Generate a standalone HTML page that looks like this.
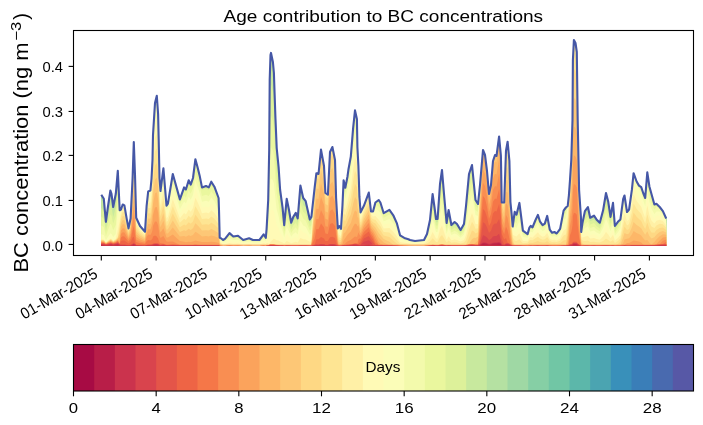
<!DOCTYPE html>
<html><head><meta charset="utf-8"><style>
html,body{margin:0;padding:0;background:#fff;}
svg{display:block;}
text{font-family:"Liberation Sans",sans-serif;fill:#000;}
</style></head><body>
<svg style="will-change:transform" width="703" height="425" viewBox="0 0 703 425">
<rect width="703" height="425" fill="#fff"/>
<text x="223.6" y="21.9" font-size="16.3" textLength="319.5" lengthAdjust="spacingAndGlyphs">Age contribution to BC concentrations</text>
<g transform="translate(28.4,272.5) rotate(-90)">
<text x="0" y="0" font-size="20" textLength="230" lengthAdjust="spacingAndGlyphs">BC concentration (ng m</text>
<text x="231.8" y="-7.1" font-size="14.2" textLength="19" lengthAdjust="spacingAndGlyphs">&#8722;3</text>
<text x="252.8" y="0" font-size="20">)</text>
</g>
<g><path d="M101.3,245.7 L101.3,194.7 L103.8,198.8 L105.9,221.8 L107.9,207 L110.4,190.5 L111.5,193.8 L113.2,207 L115.8,193.8 L117.8,170.8 L119.7,210.3 L121,209.5 L122.7,204.5 L124.4,205.4 L126.8,219.4 L128.5,228.4 L130.6,218.5 L132.6,178 L133.8,142 L135,175 L136.2,217.7 L140,226 L145,231.7 L146.6,206.2 L148.2,191.4 L150.4,190.5 L151.5,179 L152.5,160 L153,135 L155,103 L156.8,95.8 L158.1,114 L158.7,140 L159.5,178 L160.5,191 L163.4,168.3 L166.5,205.7 L167.9,203.6 L172.8,174 L179.9,199.4 L184.1,187.4 L185.9,189.5 L188.7,180.3 L190.7,184.6 L193,178 L195.4,159.2 L197.5,167 L199.6,175.4 L202,187.4 L206,186 L208.8,187.4 L211.3,181.7 L214.4,186.7 L218.6,198 L219,210 L219.7,237.8 L221,238.2 L223.1,240 L225.2,238.7 L229.5,233.1 L233.3,236.5 L238,235.7 L243.2,240 L249.1,238.2 L253,240 L259.4,240 L263.6,234.4 L265.8,237.8 L266.6,229 L268.2,200 L269.2,150 L269.7,80 L270.5,55 L271,52.9 L272.9,62 L273.9,73 L274.4,88 L275.4,117 L276.7,148 L278.6,167 L280.1,189.7 L282.6,207.8 L284.2,225.1 L286.7,198.8 L288.9,209.5 L291.2,222.7 L293.3,216.9 L295.8,212.8 L297.7,218.5 L300.4,185.6 L303.2,198 L305.7,201.2 L309.8,219.4 L311.4,216.9 L314.7,187.2 L316.4,173.2 L318.5,174 L321,149.6 L324,166 L325.4,193 L327.9,194.7 L330,152 L332.4,147 L335,160 L336.1,198 L337.8,228.4 L339.4,226 L341,228.8 L342.5,205 L343.6,180.2 L345.3,187.7 L347.4,177 L348.4,169.8 L350.8,156.6 L352.2,139.6 L353.1,128.3 L355,110.4 L356.9,118.9 L357.4,147 L358.4,166 L359.4,196.7 L360.6,212.4 L363.9,205.8 L368.8,192.6 L371,211.5 L373,211.5 L375.4,202.5 L378.7,200 L380.4,202.5 L383.7,213.2 L389.4,209.9 L393.5,215.7 L396.8,223.1 L400.1,235.4 L404.3,237.9 L408.4,239.2 L410,240 L415,241 L424,240 L427,234 L430,220 L432.6,194 L434.6,208 L436,219 L437.6,219 L440,184 L442,170 L444,194 L446.6,223 L448.6,210 L451.4,225 L454.6,222 L457,224 L460.6,230 L464,224 L466,206 L469,174 L472,165 L474,185 L475.5,200 L478,204 L480,185 L483,150 L485,155 L487,171 L489,194 L491,185 L493,161 L495,155 L496.5,156 L499.1,136.5 L500.9,155.9 L501.7,202.5 L504.2,202.5 L506,150.7 L507.6,141.7 L509.4,161 L510.4,201.8 L511.8,215.9 L512.7,226.5 L514.7,211.8 L516.5,214.7 L519.4,202.9 L521.2,217 L522.9,230.6 L527.6,234.1 L529.4,227.6 L530.7,225.9 L532.5,227.4 L535.3,220.5 L537.9,214.9 L539.9,221.3 L542.6,225.1 L544.8,223.6 L547.2,215.9 L549.8,229.7 L552.1,232.8 L554.4,232 L556.7,233.5 L560.1,228.9 L563.6,210.6 L565.9,207.5 L567.7,206 L568.9,195.3 L570,180 L571.3,160 L572.5,120 L572.9,60 L573.9,40 L575.5,43 L576.8,52 L577.7,120 L578.5,160 L579.1,190 L580.9,216.7 L581.2,232 L582.5,222.7 L584.9,211.1 L587.9,207 L590.2,217.7 L594,215.7 L596.5,219.4 L599.8,222.7 L603.1,210.3 L606,193 L608.3,202.1 L610.5,216.9 L613,202.9 L614.9,226 L617.9,221.8 L620.4,219.4 L623.2,198.8 L624.5,195.5 L627,212 L629.1,209.5 L631.9,189.7 L633.6,173.2 L636.6,181.5 L639,185.6 L641.2,187.2 L643.2,193 L645.2,198 L647.3,172.4 L649.4,186.4 L651.4,193.8 L654.4,204.5 L656.4,203.7 L659.7,207 L662.9,211.1 L666.2,218.5 L666.2,245.7 Z" fill="#5758a6"/>
<path d="M101.3,245.7 L101.3,194.7 L103.8,198.8 L105.9,221.8 L107.9,207 L110.4,190.5 L111.5,193.8 L113.2,207 L115.8,193.8 L117.8,170.8 L119.7,210.3 L121,209.5 L122.7,204.5 L124.4,205.4 L126.8,219.4 L128.5,228.4 L130.6,218.5 L132.6,178 L133.8,142 L135,175 L136.2,217.7 L140,226 L145,231.7 L146.6,206.2 L148.2,191.4 L150.4,190.5 L151.5,179 L152.5,160 L153,135 L155,103 L156.8,95.8 L158.1,114 L158.7,140 L159.5,178 L160.5,191 L163.4,168.3 L166.5,205.7 L167.9,203.6 L172.8,174 L179.9,199.4 L184.1,187.4 L185.9,189.5 L188.7,180.3 L190.7,184.6 L193,178 L195.4,159.2 L197.5,167 L199.6,175.4 L202,187.4 L206,186 L208.8,187.4 L211.3,181.7 L214.4,186.7 L218.6,198 L219,210 L219.7,237.8 L221,238.2 L223.1,240 L225.2,238.7 L229.5,233.1 L233.3,236.5 L238,235.7 L243.2,240 L249.1,238.2 L253,240 L259.4,240 L263.6,234.4 L265.8,237.8 L266.6,229 L268.2,200 L269.2,150 L269.7,80 L270.5,55 L271,52.9 L272.9,62 L273.9,73 L274.4,88 L275.4,117 L276.7,148 L278.6,167 L280.1,189.7 L282.6,207.8 L284.2,225.1 L286.7,198.8 L288.9,209.5 L291.2,222.7 L293.3,216.9 L295.8,212.8 L297.7,218.5 L300.4,185.6 L303.2,198 L305.7,201.2 L309.8,219.4 L311.4,216.9 L314.7,187.2 L316.4,173.2 L318.5,174 L321,149.6 L324,166 L325.4,193 L327.9,194.7 L330,152 L332.4,147 L335,160 L336.1,198 L337.8,228.4 L339.4,226 L341,228.8 L342.5,205 L343.6,180.2 L345.3,187.7 L347.4,177 L348.4,169.8 L350.8,156.6 L352.2,139.6 L353.1,128.3 L355,110.4 L356.9,118.9 L357.4,147 L358.4,166 L359.4,196.7 L360.6,212.4 L363.9,205.8 L368.8,192.6 L371,211.5 L373,211.5 L375.4,202.5 L378.7,200 L380.4,202.5 L383.7,213.2 L389.4,209.9 L393.5,215.7 L396.8,223.1 L400.1,235.4 L404.3,237.9 L408.4,239.2 L410,240 L415,241 L424,240 L427,234 L430,220 L432.6,194 L434.6,208 L436,219 L437.6,219 L440,184 L442,170 L444,194 L446.6,223 L448.6,210 L451.4,225 L454.6,222 L457,224 L460.6,230 L464,224 L466,206 L469,174 L472,165 L474,185 L475.5,200 L478,204 L480,185 L483,150 L485,155 L487,171 L489,194 L491,185 L493,161 L495,155 L496.5,156 L499.1,136.5 L500.9,155.9 L501.7,202.5 L504.2,202.5 L506,150.7 L507.6,141.7 L509.4,161 L510.4,201.8 L511.8,215.9 L512.7,226.5 L514.7,211.8 L516.5,214.7 L519.4,202.9 L521.2,217 L522.9,230.6 L527.6,234.1 L529.4,227.6 L530.7,225.9 L532.5,227.4 L535.3,220.5 L537.9,214.9 L539.9,221.3 L542.6,225.1 L544.8,223.6 L547.2,215.9 L549.8,229.7 L552.1,232.8 L554.4,232 L556.7,233.5 L560.1,228.9 L563.6,210.6 L565.9,207.5 L567.7,206 L568.9,195.3 L570,180 L571.3,160 L572.5,120 L572.9,60 L573.9,40 L575.5,43 L576.8,52 L577.7,120 L578.5,160 L579.1,190 L580.9,216.7 L581.2,232 L582.5,222.7 L584.9,211.1 L587.9,207 L590.2,217.7 L594,215.7 L596.5,219.4 L599.8,222.7 L603.1,210.3 L606,193 L608.3,202.1 L610.5,216.9 L613,202.9 L614.9,226 L617.9,221.8 L620.4,219.4 L623.2,198.8 L624.5,195.5 L627,212 L629.1,209.5 L631.9,189.7 L633.6,173.2 L636.6,181.5 L639,185.6 L641.2,187.2 L643.2,193 L645.2,198 L647.3,172.4 L649.4,186.4 L651.4,193.8 L654.4,204.5 L656.4,203.7 L659.7,207 L662.9,211.1 L666.2,218.5 L666.2,245.7 Z" fill="#496aaf"/>
<path d="M101.3,245.7 L101.3,194.7 L103.8,198.8 L105.9,221.8 L107.9,207 L110.4,190.5 L111.5,193.8 L113.2,207 L115.8,193.8 L117.8,170.8 L119.7,210.3 L121,209.5 L122.7,204.5 L124.4,205.4 L126.8,219.4 L128.5,228.4 L130.6,218.5 L132.6,178 L133.8,142 L135,175 L136.2,217.7 L140,226 L145,231.7 L146.6,206.2 L148.2,191.4 L150.4,190.5 L151.5,179 L152.5,160 L153,135 L155,103 L156.8,95.8 L158.1,114 L158.7,140 L159.5,178 L160.5,191 L163.4,168.3 L166.5,205.7 L167.9,203.6 L172.8,174 L179.9,199.4 L184.1,187.4 L185.9,189.5 L188.7,180.3 L190.7,184.6 L193,178 L195.4,159.2 L197.5,167 L199.6,175.4 L202,187.4 L206,186 L208.8,187.4 L211.3,181.7 L214.4,186.7 L218.6,198 L219,210 L219.7,237.8 L221,238.2 L223.1,240 L225.2,238.7 L229.5,233.1 L233.3,236.5 L238,235.7 L243.2,240 L249.1,238.2 L253,240 L259.4,240 L263.6,234.4 L265.8,237.8 L266.6,229 L268.2,200 L269.2,150 L269.7,80 L270.5,55 L271,52.9 L272.9,62 L273.9,73 L274.4,88 L275.4,117 L276.7,148 L278.6,167 L280.1,189.7 L282.6,207.8 L284.2,225.1 L286.7,198.8 L288.9,209.5 L291.2,222.7 L293.3,216.9 L295.8,212.8 L297.7,218.5 L300.4,185.6 L303.2,198 L305.7,201.2 L309.8,219.4 L311.4,216.9 L314.7,187.2 L316.4,173.2 L318.5,174 L321,149.6 L324,166 L325.4,193 L327.9,194.7 L330,152 L332.4,147 L335,160 L336.1,198 L337.8,228.4 L339.4,226 L341,228.8 L342.5,205 L343.6,180.2 L345.3,187.7 L347.4,177 L348.4,169.8 L350.8,156.6 L352.2,139.6 L353.1,128.3 L355,110.4 L356.9,118.9 L357.4,147 L358.4,166 L359.4,196.7 L360.6,212.4 L363.9,205.8 L368.8,192.6 L371,211.5 L373,211.5 L375.4,202.5 L378.7,200 L380.4,202.5 L383.7,213.2 L389.4,209.9 L393.5,215.7 L396.8,223.1 L400.1,235.4 L404.3,237.9 L408.4,239.2 L410,240 L415,241 L424,240 L427,234 L430,220 L432.6,194 L434.6,208 L436,219 L437.6,219 L440,184 L442,170 L444,194 L446.6,223 L448.6,210 L451.4,225 L454.6,222 L457,224 L460.6,230 L464,224 L466,206 L469,174 L472,165 L474,185 L475.5,200 L478,204 L480,185 L483,150 L485,155 L487,171 L489,194 L491,185 L493,161 L495,155 L496.5,156 L499.1,136.5 L500.9,155.9 L501.7,202.5 L504.2,202.5 L506,150.7 L507.6,141.7 L509.4,161 L510.4,201.8 L511.8,215.9 L512.7,226.5 L514.7,211.8 L516.5,214.7 L519.4,202.9 L521.2,217 L522.9,230.6 L527.6,234.1 L529.4,227.6 L530.7,225.9 L532.5,227.4 L535.3,220.5 L537.9,214.9 L539.9,221.3 L542.6,225.1 L544.8,223.6 L547.2,215.9 L549.8,229.7 L552.1,232.8 L554.4,232 L556.7,233.5 L560.1,228.9 L563.6,210.6 L565.9,207.5 L567.7,206 L568.9,195.3 L570,180 L571.3,160 L572.5,120 L572.9,60 L573.9,40 L575.5,43 L576.8,52 L577.7,120 L578.5,160 L579.1,190 L580.9,216.7 L581.2,232 L582.5,222.7 L584.9,211.1 L587.9,207 L590.2,217.7 L594,215.7 L596.5,219.4 L599.8,222.7 L603.1,210.3 L606,193 L608.3,202.1 L610.5,216.9 L613,202.9 L614.9,226 L617.9,221.8 L620.4,219.4 L623.2,198.8 L624.5,195.5 L627,212 L629.1,209.5 L631.9,189.7 L633.6,173.2 L636.6,181.5 L639,185.6 L641.2,187.2 L643.2,193 L645.2,198 L647.3,172.4 L649.4,186.4 L651.4,193.8 L654.4,204.5 L656.4,203.7 L659.7,207 L662.9,211.1 L666.2,218.5 L666.2,245.7 Z" fill="#3a7eb8"/>
<path d="M101.3,245.7 L101.3,194.7 L103.8,198.8 L105.9,221.8 L107.9,207 L110.4,190.5 L111.5,193.8 L113.2,207 L115.8,193.8 L117.8,170.8 L119.7,210.3 L121,209.5 L122.7,204.5 L124.4,205.4 L126.8,219.4 L128.5,228.4 L130.6,218.5 L132.6,178 L133.8,142 L135,175 L136.2,217.7 L140,226 L145,231.7 L146.6,206.2 L148.2,191.4 L150.4,190.5 L151.5,179 L152.5,160 L153,135 L155,103 L156.8,95.8 L158.1,114 L158.7,140 L159.5,178 L160.5,191 L163.4,168.3 L166.5,205.7 L167.9,203.6 L172.8,174 L179.9,199.4 L184.1,187.4 L185.9,189.5 L188.7,180.3 L190.7,184.6 L193,178 L195.4,159.2 L197.5,167 L199.6,175.4 L202,187.4 L206,186 L208.8,187.4 L211.3,181.7 L214.4,186.7 L218.6,198 L219,210 L219.7,237.8 L221,238.2 L223.1,240 L225.2,238.7 L229.5,233.1 L233.3,236.5 L238,235.7 L243.2,240 L249.1,238.2 L253,240 L259.4,240 L263.6,234.4 L265.8,237.8 L266.6,229 L268.2,200 L269.2,150 L269.7,80 L270.5,55 L271,52.9 L272.9,62 L273.9,73 L274.4,88 L275.4,117 L276.7,148 L278.6,167 L280.1,189.7 L282.6,207.8 L284.2,225.1 L286.7,198.8 L288.9,209.5 L291.2,222.7 L293.3,216.9 L295.8,212.8 L297.7,218.5 L300.4,185.6 L303.2,198 L305.7,201.2 L309.8,219.4 L311.4,216.9 L314.7,187.2 L316.4,173.2 L318.5,174 L321,149.6 L324,166 L325.4,193 L327.9,194.7 L330,152 L332.4,147 L335,160 L336.1,198 L337.8,228.4 L339.4,226 L341,228.8 L342.5,205 L343.6,180.2 L345.3,187.7 L347.4,177 L348.4,169.8 L350.8,156.6 L352.2,139.6 L353.1,128.3 L355,110.4 L356.9,118.9 L357.4,147 L358.4,166 L359.4,196.7 L360.6,212.4 L363.9,205.8 L368.8,192.6 L371,211.5 L373,211.5 L375.4,202.5 L378.7,200 L380.4,202.5 L383.7,213.2 L389.4,209.9 L393.5,215.7 L396.8,223.1 L400.1,235.4 L404.3,237.9 L408.4,239.2 L410,240 L415,241 L424,240 L427,234 L430,220 L432.6,194 L434.6,208 L436,219 L437.6,219 L440,184 L442,170 L444,194 L446.6,223 L448.6,210 L451.4,225 L454.6,222 L457,224 L460.6,230 L464,224 L466,206 L469,174 L472,165 L474,185 L475.5,200 L478,204 L480,185 L483,150 L485,155 L487,171 L489,194 L491,185 L493,161 L495,155 L496.5,156 L499.1,136.5 L500.9,155.9 L501.7,202.5 L504.2,202.5 L506,150.7 L507.6,141.7 L509.4,161 L510.4,201.8 L511.8,215.9 L512.7,226.5 L514.7,211.8 L516.5,214.7 L519.4,202.9 L521.2,217 L522.9,230.6 L527.6,234.1 L529.4,227.6 L530.7,225.9 L532.5,227.4 L535.3,220.5 L537.9,214.9 L539.9,221.3 L542.6,225.1 L544.8,223.6 L547.2,215.9 L549.8,229.7 L552.1,232.8 L554.4,232 L556.7,233.5 L560.1,228.9 L563.6,210.6 L565.9,207.5 L567.7,206 L568.9,195.3 L570,180 L571.3,160 L572.5,120 L572.9,60 L573.9,40 L575.5,43 L576.8,52 L577.7,120 L578.5,160 L579.1,190 L580.9,216.7 L581.2,232 L582.5,222.7 L584.9,211.1 L587.9,207 L590.2,217.7 L594,215.7 L596.5,219.4 L599.8,222.7 L603.1,210.3 L606,193 L608.3,202.1 L610.5,216.9 L613,202.9 L614.9,226 L617.9,221.8 L620.4,219.4 L623.2,198.8 L624.5,195.5 L627,212 L629.1,209.5 L631.9,189.7 L633.6,173.2 L636.6,181.5 L639,185.6 L641.2,187.2 L643.2,193 L645.2,198 L647.3,172.4 L649.4,186.4 L651.4,193.8 L654.4,204.5 L656.4,203.7 L659.7,207 L662.9,211.1 L666.2,218.5 L666.2,245.7 Z" fill="#3990ba"/>
<path d="M101.3,245.7 L101.3,194.7 L103.8,198.8 L105.9,221.8 L107.9,207 L110.4,190.5 L111.5,193.8 L113.2,207 L115.8,193.8 L117.8,170.8 L119.7,210.3 L121,209.5 L122.7,204.5 L124.4,205.4 L126.8,219.4 L128.5,228.4 L130.6,218.5 L132.6,178 L133.8,142 L135,175 L136.2,217.7 L140,226 L145,231.7 L146.6,206.2 L148.2,191.4 L150.4,190.5 L151.5,179 L152.5,160 L153,135 L155,103 L156.8,95.8 L158.1,114 L158.7,140 L159.5,178 L160.5,191 L163.4,168.3 L166.5,205.7 L167.9,203.6 L172.8,174 L179.9,199.4 L184.1,187.4 L185.9,189.5 L188.7,180.3 L190.7,184.6 L193,178 L195.4,159.2 L197.5,167 L199.6,175.4 L202,187.4 L206,186 L208.8,187.4 L211.3,181.7 L214.4,186.7 L218.6,198 L219,210 L219.7,237.8 L221,238.2 L223.1,240 L225.2,238.7 L229.5,233.1 L233.3,236.5 L238,235.7 L243.2,240 L249.1,238.2 L253,240 L259.4,240 L263.6,234.4 L265.8,237.8 L266.6,229 L268.2,200 L269.2,150 L269.7,80 L270.5,55 L271,52.9 L272.9,62 L273.9,73 L274.4,88 L275.4,117 L276.7,148 L278.6,167 L280.1,189.7 L282.6,207.8 L284.2,225.1 L286.7,198.8 L288.9,209.5 L291.2,222.7 L293.3,216.9 L295.8,212.8 L297.7,218.5 L300.4,185.6 L303.2,198 L305.7,201.2 L309.8,219.4 L311.4,216.9 L314.7,187.2 L316.4,173.2 L318.5,174 L321,149.6 L324,166 L325.4,193 L327.9,194.7 L330,152 L332.4,147 L335,160 L336.1,198 L337.8,228.4 L339.4,226 L341,228.8 L342.5,205 L343.6,180.2 L345.3,187.7 L347.4,177 L348.4,169.8 L350.8,156.6 L352.2,139.6 L353.1,128.3 L355,110.4 L356.9,118.9 L357.4,147 L358.4,166 L359.4,196.7 L360.6,212.4 L363.9,205.8 L368.8,192.6 L371,211.5 L373,211.5 L375.4,202.5 L378.7,200 L380.4,202.5 L383.7,213.2 L389.4,209.9 L393.5,215.7 L396.8,223.1 L400.1,235.4 L404.3,237.9 L408.4,239.2 L410,240 L415,241 L424,240 L427,234 L430,220 L432.6,194 L434.6,208 L436,219 L437.6,219 L440,184 L442,170 L444,194 L446.6,223 L448.6,210 L451.4,225 L454.6,222 L457,224 L460.6,230 L464,224 L466,206 L469,174 L472,165 L474,185 L475.5,200 L478,204 L480,185 L483,150 L485,155 L487,171 L489,194 L491,185 L493,161 L495,155 L496.5,156 L499.1,136.5 L500.9,155.9 L501.7,202.5 L504.2,202.5 L506,150.7 L507.6,141.7 L509.4,161 L510.4,201.8 L511.8,215.9 L512.7,226.5 L514.7,211.8 L516.5,214.7 L519.4,202.9 L521.2,217 L522.9,230.6 L527.6,234.1 L529.4,227.6 L530.7,225.9 L532.5,227.4 L535.3,220.5 L537.9,214.9 L539.9,221.3 L542.6,225.1 L544.8,223.6 L547.2,215.9 L549.8,229.7 L552.1,232.8 L554.4,232 L556.7,233.5 L560.1,228.9 L563.6,210.6 L565.9,207.5 L567.7,206 L568.9,195.3 L570,180 L571.3,160 L572.5,120 L572.9,60 L573.9,40 L575.5,43 L576.8,52 L577.7,120 L578.5,160 L579.1,190 L580.9,216.7 L581.2,232 L582.5,222.7 L584.9,211.1 L587.9,207 L590.2,217.7 L594,215.7 L596.5,219.4 L599.8,222.7 L603.1,210.3 L606,193 L608.3,202.1 L610.5,216.9 L613,202.9 L614.9,226 L617.9,221.8 L620.4,219.4 L623.2,198.8 L624.5,195.5 L627,212 L629.1,209.5 L631.9,189.7 L633.6,173.2 L636.6,181.5 L639,185.6 L641.2,187.2 L643.2,193 L645.2,198 L647.3,172.4 L649.4,186.4 L651.4,193.8 L654.4,204.5 L656.4,203.7 L659.7,207 L662.9,211.1 L666.2,218.5 L666.2,245.7 Z" fill="#4ba4b1"/>
<path d="M101.3,245.7 L101.3,194.7 L103.8,198.8 L105.9,221.8 L107.9,207 L110.4,190.5 L111.5,193.8 L113.2,207 L115.8,193.8 L117.8,170.8 L119.7,210.3 L121,209.5 L122.7,204.5 L124.4,205.4 L126.8,219.4 L128.5,228.4 L130.6,218.5 L132.6,178 L133.8,142 L135,175 L136.2,217.7 L140,226 L145,231.7 L146.6,206.2 L148.2,191.4 L150.4,190.5 L151.5,179 L152.5,160 L153,135 L155,103 L156.8,95.8 L158.1,114 L158.7,140 L159.5,178 L160.5,191 L163.4,168.3 L166.5,205.7 L167.9,203.6 L172.8,174 L179.9,199.4 L184.1,187.4 L185.9,189.5 L188.7,180.3 L190.7,184.6 L193,178 L195.4,159.2 L197.5,167 L199.6,175.4 L202,187.4 L206,186 L208.8,187.4 L211.3,181.7 L214.4,186.7 L218.6,198 L219,210 L219.7,237.8 L221,238.2 L223.1,240 L225.2,238.7 L229.5,233.1 L233.3,236.5 L238,235.7 L243.2,240 L249.1,238.2 L253,240 L259.4,240 L263.6,234.4 L265.8,237.8 L266.6,229 L268.2,200 L269.2,150 L269.7,80 L270.5,55 L271,52.9 L272.9,62 L273.9,73 L274.4,88 L275.4,117 L276.7,148 L278.6,167 L280.1,189.7 L282.6,207.8 L284.2,225.1 L286.7,198.8 L288.9,209.5 L291.2,222.7 L293.3,216.9 L295.8,212.8 L297.7,218.5 L300.4,185.6 L303.2,198 L305.7,201.2 L309.8,219.4 L311.4,216.9 L314.7,187.2 L316.4,173.2 L318.5,174 L321,149.6 L324,166 L325.4,193 L327.9,194.7 L330,152 L332.4,147 L335,160 L336.1,198 L337.8,228.4 L339.4,226 L341,228.8 L342.5,205 L343.6,180.2 L345.3,187.7 L347.4,177 L348.4,169.8 L350.8,156.6 L352.2,139.6 L353.1,128.3 L355,110.4 L356.9,118.9 L357.4,147 L358.4,166 L359.4,196.7 L360.6,212.4 L363.9,205.8 L368.8,192.6 L371,211.5 L373,211.5 L375.4,202.5 L378.7,200 L380.4,202.5 L383.7,213.2 L389.4,209.9 L393.5,215.7 L396.8,223.1 L400.1,235.4 L404.3,237.9 L408.4,239.2 L410,240 L415,241 L424,240 L427,234 L430,220 L432.6,194 L434.6,208 L436,219 L437.6,219 L440,184 L442,170 L444,194 L446.6,223 L448.6,210 L451.4,225 L454.6,222 L457,224 L460.6,230 L464,224 L466,206 L469,174 L472,165 L474,185 L475.5,200 L478,204 L480,185 L483,150 L485,155 L487,171 L489,194 L491,185 L493,161 L495,155 L496.5,156 L499.1,136.5 L500.9,155.9 L501.7,202.5 L504.2,202.5 L506,150.7 L507.6,141.7 L509.4,161 L510.4,201.8 L511.8,215.9 L512.7,226.5 L514.7,211.8 L516.5,214.7 L519.4,202.9 L521.2,217 L522.9,230.6 L527.6,234.1 L529.4,227.6 L530.7,225.9 L532.5,227.4 L535.3,220.5 L537.9,214.9 L539.9,221.3 L542.6,225.1 L544.8,223.6 L547.2,215.9 L549.8,229.7 L552.1,232.8 L554.4,232 L556.7,233.5 L560.1,228.9 L563.6,210.6 L565.9,207.5 L567.7,206 L568.9,195.3 L570,180 L571.3,160 L572.5,120 L572.9,60 L573.9,40 L575.5,43 L576.8,52 L577.7,120 L578.5,160 L579.1,190 L580.9,216.7 L581.2,232 L582.5,222.7 L584.9,211.1 L587.9,207 L590.2,217.7 L594,215.7 L596.5,219.4 L599.8,222.7 L603.1,210.3 L606,193 L608.3,202.1 L610.5,216.9 L613,202.9 L614.9,226 L617.9,221.8 L620.4,219.4 L623.2,198.8 L624.5,195.5 L627,212 L629.1,209.5 L631.9,189.7 L633.6,173.2 L636.6,181.5 L639,185.6 L641.2,187.2 L643.2,193 L645.2,198 L647.3,172.4 L649.4,186.4 L651.4,193.8 L654.4,204.5 L656.4,203.7 L659.7,207 L662.9,211.1 L666.2,218.5 L666.2,245.7 Z" fill="#5cb7aa"/>
<path d="M101.3,245.7 L101.3,194.7 L103.8,198.8 L105.9,221.8 L107.9,207 L110.4,190.5 L111.5,193.8 L113.2,207 L115.8,193.8 L117.8,170.8 L119.7,210.3 L121,209.5 L122.7,204.5 L124.4,205.4 L126.8,219.4 L128.5,228.4 L130.6,218.5 L132.6,178 L133.8,142 L135,175 L136.2,217.7 L140,226 L145,231.7 L146.6,206.2 L148.2,191.4 L150.4,190.5 L151.5,179 L152.5,160 L153,135 L155,103 L156.8,95.8 L158.1,114 L158.7,140 L159.5,178 L160.5,191 L163.4,168.3 L166.5,205.7 L167.9,203.6 L172.8,174 L179.9,199.4 L184.1,187.4 L185.9,189.5 L188.7,180.3 L190.7,184.6 L193,178 L195.4,159.2 L197.5,167 L199.6,175.4 L202,187.4 L206,186 L208.8,187.4 L211.3,181.7 L214.4,186.7 L218.6,198 L219,210 L219.7,237.8 L221,238.2 L223.1,240 L225.2,238.7 L229.5,233.1 L233.3,236.5 L238,235.7 L243.2,240 L249.1,238.2 L253,240 L259.4,240 L263.6,234.4 L265.8,237.8 L266.6,229 L268.2,200 L269.2,150 L269.7,80 L270.5,55 L271,52.9 L272.9,62 L273.9,73 L274.4,88 L275.4,117 L276.7,148 L278.6,167 L280.1,189.7 L282.6,207.8 L284.2,225.1 L286.7,198.8 L288.9,209.5 L291.2,222.7 L293.3,216.9 L295.8,212.8 L297.7,218.5 L300.4,185.6 L303.2,198 L305.7,201.2 L309.8,219.4 L311.4,216.9 L314.7,187.2 L316.4,173.2 L318.5,174 L321,149.6 L324,166 L325.4,193 L327.9,194.7 L330,152 L332.4,147 L335,160 L336.1,198 L337.8,228.4 L339.4,226 L341,228.8 L342.5,205 L343.6,180.2 L345.3,187.7 L347.4,177 L348.4,169.8 L350.8,156.6 L352.2,139.6 L353.1,128.3 L355,110.4 L356.9,118.9 L357.4,147 L358.4,166 L359.4,196.7 L360.6,212.4 L363.9,205.8 L368.8,192.6 L371,211.5 L373,211.5 L375.4,202.5 L378.7,200 L380.4,202.5 L383.7,213.2 L389.4,209.9 L393.5,215.7 L396.8,223.1 L400.1,235.4 L404.3,237.9 L408.4,239.2 L410,240 L415,241 L424,240 L427,234 L430,220 L432.6,194 L434.6,208 L436,219 L437.6,219 L440,184 L442,170 L444,194 L446.6,223 L448.6,210 L451.4,225 L454.6,222 L457,224 L460.6,230 L464,224 L466,206 L469,174 L472,165 L474,185 L475.5,200 L478,204 L480,185 L483,150 L485,155 L487,171 L489,194 L491,185 L493,161 L495,155 L496.5,156 L499.1,136.5 L500.9,155.9 L501.7,202.5 L504.2,202.5 L506,150.7 L507.6,141.7 L509.4,161 L510.4,201.8 L511.8,215.9 L512.7,226.5 L514.7,211.8 L516.5,214.7 L519.4,202.9 L521.2,217 L522.9,230.6 L527.6,234.1 L529.4,227.6 L530.7,225.9 L532.5,227.4 L535.3,220.5 L537.9,214.9 L539.9,221.3 L542.6,225.1 L544.8,223.6 L547.2,215.9 L549.8,229.7 L552.1,232.8 L554.4,232 L556.7,233.5 L560.1,228.9 L563.6,210.6 L565.9,207.5 L567.7,206 L568.9,195.3 L570,180 L571.3,160 L572.5,120 L572.9,60 L573.9,40 L575.5,43 L576.8,52 L577.7,120 L578.5,160 L579.1,190 L580.9,216.7 L581.2,232 L582.5,222.7 L584.9,211.1 L587.9,207 L590.2,217.7 L594,215.7 L596.5,219.4 L599.8,222.7 L603.1,210.3 L606,193 L608.3,202.1 L610.5,216.9 L613,202.9 L614.9,226 L617.9,221.8 L620.4,219.4 L623.2,198.8 L624.5,195.5 L627,212 L629.1,209.5 L631.9,189.7 L633.6,173.2 L636.6,181.5 L639,185.6 L641.2,187.2 L643.2,193 L645.2,198 L647.3,172.4 L649.4,186.4 L651.4,193.8 L654.4,204.5 L656.4,203.7 L659.7,207 L662.9,211.1 L666.2,218.5 L666.2,245.7 Z" fill="#71c6a5"/>
<path d="M101.3,245.7 L101.3,194.7 L103.8,198.8 L105.9,221.8 L107.9,207 L110.4,190.5 L111.5,193.8 L113.2,207 L115.8,193.8 L117.8,170.8 L119.7,210.3 L121,209.5 L122.7,204.5 L124.4,205.4 L126.8,219.4 L128.5,228.4 L130.6,218.5 L132.6,178 L133.8,142 L135,175 L136.2,217.7 L140,226 L145,231.7 L146.6,206.2 L148.2,191.4 L150.4,190.5 L151.5,179 L152.5,160 L153,135 L155,103 L156.8,95.8 L158.1,114 L158.7,140 L159.5,178 L160.5,191 L163.4,168.3 L166.5,205.7 L167.9,203.6 L172.8,174 L179.9,199.4 L184.1,187.4 L185.9,189.5 L188.7,180.3 L190.7,184.6 L193,178 L195.4,159.2 L197.5,167 L199.6,175.4 L202,187.4 L206,186 L208.8,187.4 L211.3,181.7 L214.4,186.7 L218.6,198 L219,210 L219.7,237.8 L221,238.2 L223.1,240 L225.2,238.7 L229.5,233.1 L233.3,236.5 L238,235.7 L243.2,240 L249.1,238.2 L253,240 L259.4,240 L263.6,234.4 L265.8,237.8 L266.6,229 L268.2,200 L269.2,150 L269.7,80 L270.5,55 L271,52.9 L272.9,62 L273.9,73 L274.4,88 L275.4,117 L276.7,148 L278.6,167 L280.1,189.7 L282.6,207.8 L284.2,225.1 L286.7,198.8 L288.9,209.5 L291.2,222.7 L293.3,216.9 L295.8,212.8 L297.7,218.5 L300.4,185.6 L303.2,198 L305.7,201.2 L309.8,219.4 L311.4,216.9 L314.7,187.2 L316.4,173.2 L318.5,174 L321,149.6 L324,166 L325.4,193 L327.9,194.7 L330,152 L332.4,147 L335,160 L336.1,198 L337.8,228.4 L339.4,226 L341,228.8 L342.5,205 L343.6,180.2 L345.3,187.7 L347.4,177 L348.4,169.8 L350.8,156.6 L352.2,139.6 L353.1,128.3 L355,110.4 L356.9,118.9 L357.4,147 L358.4,166 L359.4,196.7 L360.6,212.4 L363.9,205.8 L368.8,192.6 L371,211.5 L373,211.5 L375.4,202.5 L378.7,200 L380.4,202.5 L383.7,213.2 L389.4,209.9 L393.5,215.7 L396.8,223.1 L400.1,235.4 L404.3,237.9 L408.4,239.2 L410,240 L415,241 L424,240 L427,234 L430,220 L432.6,194 L434.6,208 L436,219 L437.6,219 L440,184 L442,170 L444,194 L446.6,223 L448.6,210 L451.4,225 L454.6,222 L457,224 L460.6,230 L464,224 L466,206 L469,174 L472,165 L474,185 L475.5,200 L478,204 L480,185 L483,150 L485,155 L487,171 L489,194 L491,185 L493,161 L495,155 L496.5,156 L499.1,136.5 L500.9,155.9 L501.7,202.5 L504.2,202.5 L506,150.7 L507.6,141.7 L509.4,161 L510.4,201.8 L511.8,215.9 L512.7,226.5 L514.7,211.8 L516.5,214.7 L519.4,202.9 L521.2,217 L522.9,230.6 L527.6,234.1 L529.4,227.6 L530.7,225.9 L532.5,227.4 L535.3,220.5 L537.9,214.9 L539.9,221.3 L542.6,225.1 L544.8,223.6 L547.2,215.9 L549.8,229.7 L552.1,232.8 L554.4,232 L556.7,233.5 L560.1,228.9 L563.6,210.6 L565.9,207.5 L567.7,206 L568.9,195.3 L570,180 L571.3,160 L572.5,120 L572.9,60 L573.9,40 L575.5,43 L576.8,52 L577.7,120 L578.5,160 L579.1,190 L580.9,216.7 L581.2,232 L582.5,222.7 L584.9,211.1 L587.9,207 L590.2,217.7 L594,215.7 L596.5,219.4 L599.8,222.7 L603.1,210.3 L606,193 L608.3,202.1 L610.5,216.9 L613,202.9 L614.9,226 L617.9,221.8 L620.4,219.4 L623.2,198.8 L624.5,195.5 L627,212 L629.1,209.5 L631.9,189.7 L633.6,173.2 L636.6,181.5 L639,185.6 L641.2,187.2 L643.2,193 L645.2,198 L647.3,172.4 L649.4,186.4 L651.4,193.8 L654.4,204.5 L656.4,203.7 L659.7,207 L662.9,211.1 L666.2,218.5 L666.2,245.7 Z" fill="#86cfa5"/>
<path d="M101.3,245.7 L101.3,194.7 L103.8,198.8 L105.9,221.8 L107.9,207 L110.4,190.5 L111.5,193.8 L113.2,207 L115.8,193.8 L117.8,170.8 L119.7,210.3 L121,209.5 L122.7,204.5 L124.4,205.4 L126.8,219.4 L128.5,228.4 L130.6,218.5 L132.6,178 L133.8,142 L135,175 L136.2,217.7 L140,226 L145,231.7 L146.6,206.2 L148.2,191.4 L150.4,190.5 L151.5,179 L152.5,160 L153,135 L155,103 L156.8,95.8 L158.1,114 L158.7,140 L159.5,178 L160.5,191 L163.4,168.3 L166.5,205.7 L167.9,203.6 L172.8,174 L179.9,199.4 L184.1,187.4 L185.9,189.5 L188.7,180.3 L190.7,184.6 L193,178 L195.4,159.2 L197.5,167 L199.6,175.4 L202,187.4 L206,186 L208.8,187.4 L211.3,181.7 L214.4,186.7 L218.6,198 L219,210 L219.7,237.8 L221,238.2 L223.1,240 L225.2,238.7 L229.5,233.1 L233.3,236.5 L238,235.7 L243.2,240 L249.1,238.2 L253,240 L259.4,240 L263.6,234.4 L265.8,237.8 L266.6,229 L268.2,200 L269.2,150 L269.7,80 L270.5,55 L271,52.9 L272.9,62 L273.9,73 L274.4,88 L275.4,117 L276.7,148 L278.6,167 L280.1,189.7 L282.6,207.8 L284.2,225.1 L286.7,198.8 L288.9,209.5 L291.2,222.7 L293.3,216.9 L295.8,212.8 L297.7,218.5 L300.4,185.6 L303.2,198 L305.7,201.2 L309.8,219.4 L311.4,216.9 L314.7,187.2 L316.4,173.2 L318.5,174 L321,149.6 L324,166 L325.4,193 L327.9,194.7 L330,152 L332.4,147 L335,160 L336.1,198 L337.8,228.4 L339.4,226 L341,228.8 L342.5,205 L343.6,180.2 L345.3,187.7 L347.4,177 L348.4,169.8 L350.8,156.6 L352.2,139.6 L353.1,128.3 L355,110.4 L356.9,118.9 L357.4,147 L358.4,166 L359.4,196.7 L360.6,212.4 L363.9,205.8 L368.8,192.6 L371,211.5 L373,211.5 L375.4,202.5 L378.7,200 L380.4,202.5 L383.7,213.2 L389.4,209.9 L393.5,215.7 L396.8,223.1 L400.1,235.4 L404.3,237.9 L408.4,239.2 L410,240 L415,241 L424,240 L427,234 L430,220 L432.6,194 L434.6,208 L436,219 L437.6,219 L440,184 L442,170 L444,194 L446.6,223 L448.6,210 L451.4,225 L454.6,222 L457,224 L460.6,230 L464,224 L466,206 L469,174 L472,165 L474,185 L475.5,200 L478,204 L480,185 L483,150 L485,155 L487,171 L489,194 L491,185 L493,161 L495,155 L496.5,156 L499.1,136.5 L500.9,155.9 L501.7,202.5 L504.2,202.5 L506,150.7 L507.6,141.7 L509.4,161 L510.4,201.8 L511.8,215.9 L512.7,226.5 L514.7,211.8 L516.5,214.7 L519.4,202.9 L521.2,217 L522.9,230.6 L527.6,234.1 L529.4,227.6 L530.7,225.9 L532.5,227.4 L535.3,220.5 L537.9,214.9 L539.9,221.3 L542.6,225.1 L544.8,223.6 L547.2,215.9 L549.8,229.7 L552.1,232.8 L554.4,232 L556.7,233.5 L560.1,228.9 L563.6,210.6 L565.9,207.5 L567.7,206 L568.9,195.3 L570,180 L571.3,160 L572.5,120 L572.9,60 L573.9,40 L575.5,43 L576.8,52 L577.7,120 L578.5,160 L579.1,190 L580.9,216.7 L581.2,232 L582.5,222.7 L584.9,211.1 L587.9,207 L590.2,217.7 L594,215.7 L596.5,219.4 L599.8,222.7 L603.1,210.3 L606,193 L608.3,202.1 L610.5,216.9 L613,202.9 L614.9,226 L617.9,221.8 L620.4,219.4 L623.2,198.8 L624.5,195.5 L627,212 L629.1,209.5 L631.9,189.7 L633.6,173.2 L636.6,181.5 L639,185.6 L641.2,187.2 L643.2,193 L645.2,198 L647.3,172.4 L649.4,186.4 L651.4,193.8 L654.4,204.5 L656.4,203.7 L659.7,207 L662.9,211.1 L666.2,218.5 L666.2,245.7 Z" fill="#9fd8a4"/>
<path d="M101.3,245.7 L101.3,194.7 L103.8,198.8 L105.9,221.8 L107.9,207 L110.4,190.5 L111.5,193.8 L113.2,207 L115.8,193.8 L117.8,170.8 L119.7,210.3 L121,209.5 L122.7,204.5 L124.4,205.4 L126.8,219.4 L128.5,228.4 L130.6,218.5 L132.6,178 L133.8,142 L135,175 L136.2,217.7 L140,226 L145,231.7 L146.6,206.2 L148.2,191.4 L150.4,190.5 L151.5,179 L152.5,160 L153,135 L155,103 L156.8,95.8 L158.1,114 L158.7,140 L159.5,178 L160.5,191 L163.4,168.3 L166.5,205.7 L167.9,203.6 L172.8,174 L179.9,199.4 L184.1,187.4 L185.9,189.5 L188.7,180.3 L190.7,184.6 L193,178 L195.4,159.2 L197.5,167 L199.6,175.4 L202,187.4 L206,186 L208.8,187.4 L211.3,181.7 L214.4,186.7 L218.6,198 L219,210 L219.7,237.8 L221,238.2 L223.1,240 L225.2,238.7 L229.5,233.1 L233.3,236.5 L238,235.7 L243.2,240 L249.1,238.2 L253,240 L259.4,240 L263.6,234.4 L265.8,237.8 L266.6,229 L268.2,200 L269.2,150 L269.7,80 L270.5,55 L271,52.9 L272.9,62 L273.9,73 L274.4,88 L275.4,117 L276.7,148 L278.6,167 L280.1,189.7 L282.6,207.8 L284.2,225.1 L286.7,198.8 L288.9,209.5 L291.2,222.7 L293.3,216.9 L295.8,212.8 L297.7,218.5 L300.4,185.6 L303.2,198 L305.7,201.2 L309.8,219.4 L311.4,216.9 L314.7,187.2 L316.4,173.2 L318.5,174 L321,149.6 L324,166 L325.4,193 L327.9,194.7 L330,152 L332.4,147 L335,160 L336.1,198 L337.8,228.4 L339.4,226 L341,228.8 L342.5,205 L343.6,180.2 L345.3,187.7 L347.4,177 L348.4,169.8 L350.8,156.6 L352.2,139.6 L353.1,128.3 L355,110.4 L356.9,118.9 L357.4,147 L358.4,166 L359.4,196.7 L360.6,212.4 L363.9,205.8 L368.8,192.6 L371,211.5 L373,211.5 L375.4,202.5 L378.7,200 L380.4,202.5 L383.7,213.2 L389.4,209.9 L393.5,215.7 L396.8,223.1 L400.1,235.4 L404.3,237.9 L408.4,239.2 L410,240 L415,241 L424,240 L427,234 L430,220 L432.6,194 L434.6,208 L436,219 L437.6,219 L440,184 L442,170 L444,194 L446.6,223 L448.6,210 L451.4,225 L454.6,222 L457,224 L460.6,230 L464,224 L466,206 L469,174 L472,165 L474,185 L475.5,200 L478,204 L480,185 L483,150 L485,155 L487,171 L489,194 L491,185 L493,161 L495,155 L496.5,156 L499.1,136.5 L500.9,155.9 L501.7,202.5 L504.2,202.5 L506,150.7 L507.6,141.7 L509.4,161 L510.4,201.8 L511.8,215.9 L512.7,226.5 L514.7,211.8 L516.5,214.7 L519.4,202.9 L521.2,217 L522.9,230.6 L527.6,234.1 L529.4,227.6 L530.7,225.9 L532.5,227.4 L535.3,220.5 L537.9,214.9 L539.9,221.3 L542.6,225.1 L544.8,223.6 L547.2,215.9 L549.8,229.7 L552.1,232.8 L554.4,232 L556.7,233.5 L560.1,228.9 L563.6,210.6 L565.9,207.5 L567.7,206 L568.9,195.3 L570,180 L571.3,160 L572.5,120 L572.9,60 L573.9,40 L575.5,43 L576.8,52 L577.7,120 L578.5,160 L579.1,190 L580.9,216.7 L581.2,232 L582.5,222.7 L584.9,211.1 L587.9,207 L590.2,217.7 L594,215.7 L596.5,219.4 L599.8,222.7 L603.1,210.3 L606,193 L608.3,202.1 L610.5,216.9 L613,202.9 L614.9,226 L617.9,221.8 L620.4,219.4 L623.2,198.8 L624.5,195.5 L627,212 L629.1,209.5 L631.9,189.7 L633.6,173.2 L636.6,181.5 L639,185.6 L641.2,187.2 L643.2,193 L645.2,198 L647.3,172.4 L649.4,186.4 L651.4,193.8 L654.4,204.5 L656.4,203.7 L659.7,207 L662.9,211.1 L666.2,218.5 L666.2,245.7 Z" fill="#b5e1a2"/>
<path d="M101.3,245.7 L101.3,199.1 L103.8,202.8 L105.9,223.9 L107.9,210.3 L110.4,195.2 L111.5,198.3 L113.2,210.3 L115.8,198.3 L117.8,170.8 L119.7,210.3 L121,209.5 L122.7,204.5 L124.4,205.4 L126.8,219.4 L128.5,228.4 L130.6,218.5 L132.6,178 L133.8,142 L135,175 L136.2,217.7 L140,226 L145,231.7 L146.6,206.2 L148.2,191.4 L150.4,190.5 L151.5,179 L152.5,160 L153,135 L155,103 L156.8,95.8 L158.1,114 L158.7,140 L159.5,178 L160.5,191 L163.4,168.3 L166.5,205.7 L167.9,203.6 L172.8,174 L179.9,199.4 L184.1,187.4 L185.9,189.5 L188.7,180.3 L190.7,184.6 L193,178 L195.4,159.2 L197.5,167 L199.6,175.4 L202,187.4 L206,186 L208.8,187.4 L211.3,181.7 L214.4,186.7 L218.6,198 L219,210 L219.7,237.8 L221,238.2 L223.1,240 L225.2,238.7 L229.5,233.1 L233.3,236.5 L238,235.7 L243.2,240 L249.1,238.2 L253,240 L259.4,240 L263.6,234.4 L265.8,237.8 L266.6,229 L268.2,200 L269.2,150 L269.7,80 L270.5,55 L271,52.9 L272.9,62 L273.9,73 L274.4,88 L275.4,117 L276.7,148 L278.6,167 L280.1,189.7 L282.6,207.8 L284.2,225.1 L286.7,198.8 L288.9,209.5 L291.2,222.7 L293.3,216.9 L295.8,212.8 L297.7,218.5 L300.4,185.6 L303.2,198 L305.7,201.2 L309.8,219.4 L311.4,216.9 L314.7,187.2 L316.4,173.2 L318.5,174 L321,149.6 L324,166 L325.4,193 L327.9,194.7 L330,152 L332.4,147 L335,160 L336.1,198 L337.8,228.4 L339.4,226 L341,228.8 L342.5,205 L343.6,180.2 L345.3,187.7 L347.4,177 L348.4,169.8 L350.8,156.6 L352.2,139.6 L353.1,128.3 L355,110.4 L356.9,118.9 L357.4,147 L358.4,166 L359.4,196.7 L360.6,212.4 L363.9,205.8 L368.8,192.6 L371,211.5 L373,211.5 L375.4,202.5 L378.7,200 L380.4,202.5 L383.7,213.2 L389.4,209.9 L393.5,215.7 L396.8,223.1 L400.1,235.4 L404.3,237.9 L408.4,239.2 L410,240 L415,241 L424,240 L427,234 L430,220 L432.6,194 L434.6,208 L436,219 L437.6,219 L440,184 L442,170 L444,194 L446.6,223 L448.6,210 L451.4,225 L454.6,222 L457,224 L460.6,230 L464,224 L466,206 L469,174 L472,165 L474,185 L475.5,200 L478,204 L480,185 L483,150 L485,155 L487,171 L489,194 L491,185 L493,161 L495,155 L496.5,156 L499.1,136.5 L500.9,155.9 L501.7,202.5 L504.2,202.5 L506,150.7 L507.6,141.7 L509.4,161 L510.4,201.8 L511.8,215.9 L512.7,226.5 L514.7,211.8 L516.5,214.7 L519.4,202.9 L521.2,217 L522.9,230.6 L527.6,234.1 L529.4,227.6 L530.7,225.9 L532.5,227.4 L535.3,220.5 L537.9,214.9 L539.9,221.3 L542.6,225.1 L544.8,223.6 L547.2,215.9 L549.8,229.7 L552.1,232.8 L554.4,232 L556.7,233.5 L560.1,228.9 L563.6,210.6 L565.9,207.5 L567.7,206 L568.9,195.3 L570,180 L571.3,160 L572.5,120 L572.9,60 L573.9,40 L575.5,43 L576.8,52 L577.7,120 L578.5,160 L579.1,190 L580.9,216.7 L581.2,232 L582.5,222.7 L584.9,211.1 L587.9,207 L590.2,217.7 L594,215.7 L596.5,219.4 L599.8,222.7 L603.1,210.3 L606,193 L608.3,202.1 L610.5,216.9 L613,202.9 L614.9,226 L617.9,221.8 L620.4,219.4 L623.2,198.8 L624.5,195.5 L627,212 L629.1,209.5 L631.9,189.7 L633.6,173.2 L636.6,181.5 L639,185.6 L641.2,187.2 L643.2,193 L645.2,198 L647.3,172.4 L649.4,186.4 L651.4,193.8 L654.4,204.5 L656.4,203.7 L659.7,207 L662.9,211.1 L666.2,218.5 L666.2,245.7 Z" fill="#c8e99e"/>
<path d="M101.3,245.7 L101.3,207.9 L103.8,210.9 L105.9,228 L107.9,217 L110.4,204.7 L111.5,207.2 L113.2,217 L115.8,207.2 L117.8,175.2 L119.7,210.3 L121,209.5 L122.7,204.5 L124.4,205.4 L126.8,219.4 L128.5,228.4 L130.6,218.5 L132.6,178 L133.8,142 L135,175 L136.2,217.7 L140,226 L145,231.7 L146.6,206.2 L148.2,191.4 L150.4,190.5 L151.5,179 L152.5,160 L153,135 L155,103 L156.8,95.8 L158.1,114 L158.7,140 L159.5,178 L160.5,191 L163.4,168.3 L166.5,205.7 L167.9,203.6 L172.8,174 L179.9,199.4 L184.1,187.4 L185.9,189.5 L188.7,180.3 L190.7,184.6 L193,178 L195.4,159.2 L197.5,167 L199.6,175.4 L202,187.4 L206,186 L208.8,187.4 L211.3,181.7 L214.4,186.7 L218.6,198 L219,210 L219.7,237.8 L221,238.2 L223.1,240 L225.2,238.7 L229.5,233.1 L233.3,236.5 L238,235.7 L243.2,240 L249.1,238.2 L253,240 L259.4,240 L263.6,234.4 L265.8,237.8 L266.6,229 L268.2,203.7 L269.2,165.8 L269.7,107.2 L270.5,86.2 L271,84.3 L272.9,91.6 L273.9,100.6 L274.4,113.1 L275.4,137.4 L276.7,163.4 L278.6,179.2 L280.1,198.3 L282.6,213.6 L284.2,228.2 L286.7,205.9 L288.9,214.9 L291.2,226.1 L293.3,221.2 L295.8,217.6 L297.7,222.5 L300.4,194.3 L303.2,204.9 L305.7,207.6 L309.8,223.1 L311.4,221 L314.7,187.2 L316.4,173.2 L318.5,174 L321,149.6 L324,166 L325.4,193 L327.9,194.7 L330,152 L332.4,147 L335,160 L336.1,198 L337.8,228.4 L339.4,226 L341,228.8 L342.5,205 L343.6,180.2 L345.3,187.7 L347.4,177 L348.4,169.8 L350.8,156.6 L352.2,139.6 L353.1,128.3 L355,110.4 L356.9,118.9 L357.4,147 L358.4,166 L359.4,196.7 L360.6,212.4 L363.9,205.8 L368.8,192.6 L371,211.5 L373,211.5 L375.4,202.5 L378.7,200 L380.4,202.5 L383.7,213.2 L389.4,209.9 L393.5,215.7 L396.8,223.1 L400.1,235.4 L404.3,237.9 L408.4,239.2 L410,240 L415,241 L424,240 L427,234 L430,220 L432.6,200.3 L434.6,212.6 L436,222.3 L437.6,222.3 L440,191.6 L442,179.3 L444,200.3 L446.6,225.8 L448.6,214.4 L451.4,227.5 L454.6,224.9 L457,226.7 L460.6,231.9 L464,226.7 L466,210.9 L469,180.2 L472,169.4 L474,187.1 L475.5,201 L478,204 L480,185 L483,150 L485,155 L487,171 L489,194 L491,185 L493,161 L495,155 L496.5,156 L499.1,136.5 L500.9,155.9 L501.7,202.5 L504.2,202.5 L506,150.7 L507.6,141.7 L509.4,161 L510.4,201.8 L511.8,215.9 L512.7,226.5 L514.7,211.8 L516.5,214.7 L519.4,202.9 L521.2,217 L522.9,230.6 L527.6,234.1 L529.4,227.6 L530.7,225.9 L532.5,227.4 L535.3,220.5 L537.9,214.9 L539.9,221.3 L542.6,225.1 L544.8,223.6 L547.2,215.9 L549.8,229.7 L552.1,232.8 L554.4,232 L556.7,233.5 L560.1,228.9 L563.6,210.6 L565.9,207.5 L567.7,206 L568.9,195.3 L570,180 L571.3,160 L572.5,120 L572.9,60 L573.9,40 L575.5,43 L576.8,52 L577.7,120 L578.5,160 L579.1,190 L580.9,216.7 L581.2,232 L582.5,223.1 L584.9,215.4 L587.9,211.8 L590.2,221.2 L594,219.4 L596.5,222.7 L599.8,225.5 L603.1,214.7 L606,199.5 L608.3,207.5 L610.5,220.5 L613,208.2 L614.9,228.4 L617.9,223.4 L620.4,219.4 L623.2,198.8 L624.5,195.5 L627,212 L629.1,209.5 L631.9,189.7 L633.6,173.2 L636.6,181.5 L639,185.6 L641.2,187.2 L643.2,193 L645.2,198 L647.3,172.4 L649.4,186.4 L651.4,193.8 L654.4,204.5 L656.4,203.7 L659.7,207 L662.9,211.1 L666.2,218.5 L666.2,245.7 Z" fill="#ddf19a"/>
<path d="M101.3,245.7 L101.3,216.6 L103.8,219 L105.9,232.1 L107.9,223.6 L110.4,214.2 L111.5,216.1 L113.2,223.6 L115.8,216.1 L117.8,186.2 L119.7,210.3 L121,209.5 L122.7,204.5 L124.4,205.4 L126.8,219.4 L128.5,228.4 L130.6,218.5 L132.6,178 L133.8,142 L135,175 L136.2,217.7 L140,226 L145,231.7 L146.6,206.2 L148.2,191.4 L150.4,190.5 L151.5,179 L152.5,160 L153,135 L155,103 L156.8,95.8 L158.1,114 L158.7,140 L159.5,178 L160.5,191 L163.4,168.3 L166.5,205.7 L167.9,203.6 L172.8,174 L179.9,199.9 L184.1,189.9 L185.9,192.3 L188.7,183.5 L190.7,187.6 L193,181.3 L195.4,163.5 L197.5,170.9 L199.6,178.9 L202,190.3 L206,188.9 L208.8,190.3 L211.3,184.9 L214.4,189.6 L218.6,200.4 L219,211.8 L219.7,238.1 L221,238.4 L223.1,240 L225.2,238.7 L229.5,233.1 L233.3,236.5 L238,235.7 L243.2,240 L249.1,238.2 L253,240 L259.4,240 L263.6,234.4 L265.8,237.8 L266.6,230.3 L268.2,211.6 L269.2,181.5 L269.7,134.4 L270.5,117.3 L271,115.7 L272.9,121.1 L273.9,128.3 L274.4,138.3 L275.4,157.8 L276.7,178.7 L278.6,191.5 L280.1,207 L282.6,219.3 L284.2,231.3 L286.7,212.9 L288.9,220.3 L291.2,229.5 L293.3,225.4 L295.8,222.5 L297.7,226.5 L300.4,203.1 L303.2,211.8 L305.7,214 L309.8,226.9 L311.4,225.1 L314.7,187.2 L316.4,173.2 L318.5,174 L321,149.6 L324,166 L325.4,193 L327.9,194.7 L330,152 L332.4,147 L335,160 L336.1,198 L337.8,228.4 L339.4,226 L341,228.8 L342.5,205 L343.6,180.2 L345.3,187.7 L347.4,177 L348.4,169.8 L350.8,156.6 L352.2,139.6 L353.1,128.3 L355,110.4 L356.9,118.9 L357.4,147 L358.4,166 L359.4,196.7 L360.6,212.4 L363.9,205.8 L368.8,192.6 L371,211.5 L373,211.5 L375.4,202.5 L378.7,202 L380.4,204.4 L383.7,214.2 L389.4,209.9 L393.5,215.7 L396.8,223.1 L400.1,235.4 L404.3,237.9 L408.4,239.2 L410,240 L415,241 L424,240 L427,234 L430,222.8 L432.6,206.7 L434.6,217.2 L436,225.5 L437.6,225.5 L440,199.1 L442,188.5 L444,206.7 L446.6,228.6 L448.6,218.7 L451.4,230.1 L454.6,227.8 L457,229.3 L460.6,233.8 L464,229.3 L466,215.7 L469,188.4 L472,178.1 L474,193.4 L475.5,205.6 L478,208 L480,185 L483,150 L485,155 L487,171 L489,194 L491,185 L493,161 L495,155 L496.5,156 L499.1,136.5 L500.9,155.9 L501.7,202.5 L504.2,202.5 L506,150.7 L507.6,141.7 L509.4,161 L510.4,201.8 L511.8,215.9 L512.7,226.5 L514.7,216.6 L516.5,219.1 L519.4,209 L521.2,221.1 L522.9,232.5 L527.6,234.6 L529.4,227.8 L530.7,225.9 L532.5,227.4 L535.3,220.5 L537.9,214.9 L539.9,221.3 L542.6,225.1 L544.8,223.6 L547.2,215.9 L549.8,229.7 L552.1,232.8 L554.4,232 L556.7,233.5 L560.1,228.9 L563.6,210.6 L565.9,207.5 L567.7,206 L568.9,195.3 L570,180 L571.3,160 L572.5,120 L572.9,60 L573.9,40 L575.5,43 L576.8,52 L577.7,120 L578.5,160 L579.1,190 L580.9,216.7 L581.2,232 L582.5,225.9 L584.9,219.7 L587.9,216.6 L590.2,224.6 L594,223.1 L596.5,225.9 L599.8,228.4 L603.1,219.1 L606,206 L608.3,212.9 L610.5,224 L613,213.5 L614.9,230.9 L617.9,226.3 L620.4,222 L623.2,198.8 L624.5,195.5 L627,212 L629.1,209.5 L631.9,189.7 L633.6,173.2 L636.6,181.5 L639,185.6 L641.2,187.2 L643.2,193 L645.2,198 L647.3,172.4 L649.4,187.6 L651.4,196.4 L654.4,204.7 L656.4,203.7 L659.7,207 L662.9,211.1 L666.2,218.5 L666.2,245.7 Z" fill="#eaf79e"/>
<path d="M101.3,245.7 L101.3,225.4 L103.8,227 L105.9,236.2 L107.9,230.3 L110.4,223.7 L111.5,225 L113.2,230.3 L115.8,225 L117.8,197.2 L119.7,210.3 L121,209.5 L122.7,204.5 L124.4,205.4 L126.8,219.4 L128.5,228.4 L130.6,218.5 L132.6,178 L133.8,142 L135,175 L136.2,217.7 L140,226 L145,231.7 L146.6,206.2 L148.2,191.4 L150.4,190.5 L151.5,179 L152.5,160 L153,135 L155,103 L156.8,95.8 L158.1,114 L158.7,140 L159.5,178 L160.5,191 L163.4,168.3 L166.5,206.1 L167.9,204.5 L172.8,178.1 L179.9,204.5 L184.1,195.6 L185.9,197.8 L188.7,190 L190.7,193.7 L193,188 L195.4,172 L197.5,178.7 L199.6,185.8 L202,196 L206,194.8 L208.8,196 L211.3,191.2 L214.4,195.4 L218.6,205.1 L219,215.3 L219.7,239 L221,239.5 L223.1,241.1 L225.2,240.1 L229.5,235.6 L233.3,238.3 L238,237.7 L243.2,241.1 L249.1,239.7 L253,241.1 L259.4,241.1 L263.6,236.6 L265.8,239.4 L266.6,233.5 L268.2,219.5 L269.2,197.3 L269.7,161.7 L270.5,148.5 L271,147.1 L272.9,150.7 L273.9,155.9 L274.4,163.4 L275.4,178.2 L276.7,194.1 L278.6,203.7 L280.1,215.6 L282.6,225.1 L284.2,234.5 L286.7,220 L288.9,225.8 L291.2,233 L293.3,229.7 L295.8,227.3 L297.7,230.4 L300.4,211.8 L303.2,218.7 L305.7,220.4 L309.8,230.6 L311.4,229.1 L314.7,187.2 L316.4,173.2 L318.5,174 L321,149.6 L324,166 L325.4,193 L327.9,194.7 L330,152 L332.4,147 L335,160 L336.1,198 L337.8,228.4 L339.4,227.3 L341,230.1 L342.5,208.3 L343.6,185.9 L345.3,193 L347.4,183.1 L348.4,176.2 L350.8,163.3 L352.2,146.9 L353.1,136 L355,118.2 L356.9,125.2 L357.4,151.1 L358.4,167.9 L359.4,197.1 L360.6,212.4 L363.9,205.8 L368.8,192.6 L371,211.5 L373,211.5 L375.4,204.6 L378.7,206.4 L380.4,208.8 L383.7,217.7 L389.4,214.5 L393.5,219.2 L396.8,225.5 L400.1,236.3 L404.3,238.6 L408.4,239.8 L410,240.5 L415,241.4 L424,240.5 L427,235.1 L430,226.6 L432.6,213 L434.6,221.9 L436,228.8 L437.6,228.8 L440,206.7 L442,197.8 L444,213 L446.6,231.3 L448.6,223.1 L451.4,232.6 L454.6,230.7 L457,232 L460.6,235.8 L464,232 L466,220.6 L469,196.7 L472,186.9 L474,199.8 L475.5,210.2 L478,212.1 L480,185 L483,150 L485,155 L487,171 L489,194 L491,185 L493,161 L495,155 L496.5,156 L499.1,136.5 L500.9,155.9 L501.7,202.5 L504.2,202.5 L506,150.7 L507.6,141.7 L509.4,161 L510.4,201.8 L511.8,215.9 L512.7,227.2 L514.7,221.4 L516.5,223.5 L519.4,215 L521.2,225.1 L522.9,234.6 L527.6,236.2 L529.4,230.4 L530.7,228.7 L532.5,230 L535.3,224.1 L537.9,219.3 L539.9,224.8 L542.6,228 L544.8,226.7 L547.2,220.1 L549.8,232 L552.1,234.6 L554.4,233.9 L556.7,235.2 L560.1,231.3 L563.6,215.6 L565.9,212.9 L567.7,206 L568.9,195.3 L570,180 L571.3,160 L572.5,120 L572.9,60 L573.9,40 L575.5,43 L576.8,52 L577.7,120 L578.5,160 L579.1,190 L580.9,216.7 L581.2,232 L582.5,228.8 L584.9,223.9 L587.9,221.4 L590.2,228.1 L594,226.8 L596.5,229.2 L599.8,231.2 L603.1,223.4 L606,212.6 L608.3,218.3 L610.5,227.6 L613,218.8 L614.9,233.3 L617.9,229.3 L620.4,225.3 L623.2,201.2 L624.5,195.5 L627,212 L629.1,209.5 L631.9,189.7 L633.6,173.2 L636.6,181.5 L639,185.6 L641.2,187.2 L643.2,193.6 L645.2,200.7 L647.3,179.9 L649.4,194.5 L651.4,202.4 L654.4,209.4 L656.4,206.8 L659.7,207.2 L662.9,211.1 L666.2,218.5 L666.2,245.7 Z" fill="#f3faac"/>
<path d="M101.3,245.7 L101.3,234.2 L103.8,235.1 L105.9,240.3 L107.9,237 L110.4,233.2 L111.5,234 L113.2,237 L115.8,234 L117.8,208.2 L119.7,213.4 L121,209.5 L122.7,204.5 L124.4,205.4 L126.8,219.4 L128.5,228.4 L130.6,218.5 L132.6,178 L133.8,142 L135,175 L136.2,217.7 L140,226 L145,231.7 L146.6,206.3 L148.2,192 L150.4,191.8 L151.5,180.9 L152.5,162.9 L153,139 L155,109.6 L156.8,104.2 L158.1,122.2 L158.7,146.9 L159.5,182.7 L160.5,195.1 L163.4,175.2 L166.5,210.1 L167.9,208.6 L172.8,185.2 L179.9,209.1 L184.1,201.4 L185.9,203.4 L188.7,196.5 L190.7,199.7 L193,194.7 L195.4,180.6 L197.5,186.4 L199.6,192.8 L202,201.8 L206,200.7 L208.8,201.8 L211.3,197.5 L214.4,201.3 L218.6,209.8 L219,218.8 L219.7,239.9 L221,240.6 L223.1,242.3 L225.2,241.5 L229.5,238.1 L233.3,240.1 L238,239.7 L243.2,242.3 L249.1,241.2 L253,242.3 L259.4,242.3 L263.6,238.9 L265.8,240.9 L266.6,236.6 L268.2,227.4 L269.2,213.1 L269.7,188.9 L270.5,179.7 L271,178.5 L272.9,180.3 L273.9,183.5 L274.4,188.6 L275.4,198.6 L276.7,209.4 L278.6,215.9 L280.1,224.2 L282.6,230.9 L284.2,237.6 L286.7,227 L288.9,231.2 L291.2,236.4 L293.3,234 L295.8,232.2 L297.7,234.4 L300.4,220.6 L303.2,225.6 L305.7,226.8 L309.8,234.4 L311.4,233.2 L314.7,187.2 L316.4,173.2 L318.5,174 L321,149.6 L324,166 L325.4,193 L327.9,194.7 L330,152 L332.4,147 L335,160 L336.1,198 L337.8,228.4 L339.4,229.9 L341,232.1 L342.5,212.8 L343.6,192.7 L345.3,198.6 L347.4,189.5 L348.4,183.4 L350.8,171.8 L352.2,157.1 L353.1,147.3 L355,131.3 L356.9,137.6 L357.4,160.5 L358.4,175 L359.4,201.3 L360.6,214.3 L363.9,205.8 L368.8,192.6 L371,211.5 L373,211.5 L375.4,208.4 L378.7,210.9 L380.4,213.1 L383.7,221.3 L389.4,219 L393.5,223.5 L396.8,229.1 L400.1,238.2 L404.3,240 L408.4,241 L410,241.5 L415,242.3 L424,241.5 L427,237.2 L430,230.3 L432.6,219.3 L434.6,226.5 L436,232.1 L437.6,232.1 L440,214.2 L442,207.1 L444,219.3 L446.6,234.1 L448.6,227.5 L451.4,235.1 L454.6,233.6 L457,234.6 L460.6,237.7 L464,234.6 L466,225.5 L469,204.9 L472,195.6 L474,206.1 L475.5,214.9 L478,216.1 L480,185 L483,150 L485,155 L487,171 L489,194 L491,185 L493,161 L495,155 L496.5,156 L499.1,136.5 L500.9,155.9 L501.7,202.5 L504.2,202.5 L506,150.7 L507.6,141.7 L509.4,161 L510.4,201.8 L511.8,216.2 L512.7,229.7 L514.7,226.2 L516.5,227.9 L519.4,221.1 L521.2,229.2 L522.9,236.8 L527.6,237.9 L529.4,232.9 L530.7,231.5 L532.5,232.6 L535.3,227.6 L537.9,223.6 L539.9,228.2 L542.6,230.9 L544.8,229.9 L547.2,224.3 L549.8,234.2 L552.1,236.4 L554.4,235.9 L556.7,237 L560.1,233.7 L563.6,220.5 L565.9,218.3 L567.7,206 L568.9,195.3 L570,180 L571.3,160 L572.5,120 L572.9,60 L573.9,40 L575.5,43 L576.8,52 L577.7,120 L578.5,160 L579.1,190 L580.9,217.9 L581.2,233.5 L582.5,231.7 L584.9,228.2 L587.9,226.2 L590.2,231.6 L594,230.5 L596.5,232.4 L599.8,234.1 L603.1,227.8 L606,219.1 L608.3,223.7 L610.5,231.2 L613,224.1 L614.9,235.8 L617.9,232.2 L620.4,228.6 L623.2,207.2 L624.5,200.4 L627,212.2 L629.1,210 L631.9,191.2 L633.6,175.7 L636.6,184.6 L639,189.1 L641.2,192.4 L643.2,200 L645.2,206.4 L647.3,188.4 L649.4,201.4 L651.4,208.4 L654.4,214 L656.4,211.5 L659.7,211.4 L662.9,214.4 L666.2,220.8 L666.2,245.7 Z" fill="#fbfdb8"/>
<path d="M101.3,245.7 L101.3,238.8 L103.8,239.3 L105.9,242.5 L107.9,240.5 L110.4,238.2 L111.5,238.7 L113.2,240.5 L115.8,238.7 L117.8,219.2 L119.7,217.4 L121,209.5 L122.7,204.5 L124.4,205.4 L126.8,219.4 L128.5,228.4 L130.6,218.5 L132.6,178 L133.8,142 L135,178.5 L136.2,220.4 L140,227.9 L145,233.1 L146.6,210.2 L148.2,197.3 L150.4,197.2 L151.5,187.4 L152.5,171.3 L153,149.8 L155,123.6 L156.8,118.8 L158.1,135.1 L158.7,157.3 L159.5,189.3 L160.5,200.5 L163.4,182.8 L166.5,214 L167.9,212.8 L172.8,192.2 L179.9,213.6 L184.1,207.2 L185.9,208.9 L188.7,202.9 L190.7,205.7 L193,201.4 L195.4,189.1 L197.5,194.2 L199.6,199.7 L202,207.6 L206,206.6 L208.8,207.6 L211.3,203.8 L214.4,207.1 L218.6,214.5 L219,222.3 L219.7,240.8 L221,241.7 L223.1,243.4 L225.2,242.9 L229.5,240.6 L233.3,242 L238,241.6 L243.2,243.4 L249.1,242.7 L253,243.4 L259.4,243.4 L263.6,241.1 L265.8,242.5 L266.6,239.8 L268.2,235.2 L269.2,228.9 L269.7,216.1 L270.5,210.8 L271,209.9 L272.9,209.9 L273.9,211.1 L274.4,213.7 L275.4,219 L276.7,224.8 L278.6,228.2 L280.1,232.8 L282.6,236.6 L284.2,240.7 L286.7,234.1 L288.9,236.6 L291.2,239.8 L293.3,238.2 L295.8,237 L297.7,238.4 L300.4,229.3 L303.2,232.5 L305.7,233.1 L309.8,238.1 L311.4,237.3 L314.7,187.2 L316.4,173.2 L318.5,174 L321,149.6 L324,166 L325.4,193 L327.9,194.7 L330,152 L332.4,147 L335,160 L336.1,198 L337.8,229.6 L339.4,232.4 L341,234.1 L342.5,217.3 L343.6,199.5 L345.3,204.2 L347.4,196 L348.4,190.6 L350.8,180.3 L352.2,167.3 L353.1,158.6 L355,144.5 L356.9,150 L357.4,169.9 L358.4,182.2 L359.4,205.4 L360.6,217 L363.9,206 L368.8,192.6 L371,211.5 L373,213.6 L375.4,212.2 L378.7,215.3 L380.4,217.5 L383.7,224.8 L389.4,223.5 L393.5,227.8 L396.8,232.7 L400.1,240 L404.3,241.4 L408.4,242.1 L410,242.6 L415,243.1 L424,242.6 L427,239.3 L430,234.1 L432.6,225.7 L434.6,231.1 L436,235.4 L437.6,235.4 L440,221.8 L442,216.4 L444,225.7 L446.6,236.9 L448.6,231.9 L451.4,237.7 L454.6,236.5 L457,237.3 L460.6,239.6 L464,237.3 L466,230.3 L469,213.2 L472,204.3 L474,212.4 L475.5,219.5 L478,220.2 L480,185 L483,150 L485,155 L487,171 L489,194 L491,185 L493,161 L495,155 L496.5,156 L499.1,136.5 L500.9,155.9 L501.7,202.5 L504.2,202.5 L506,150.7 L507.6,141.7 L509.4,161 L510.4,201.8 L511.8,219.9 L512.7,232.2 L514.7,231 L516.5,232.2 L519.4,227.1 L521.2,233.2 L522.9,238.9 L527.6,239.5 L529.4,235.5 L530.7,234.3 L532.5,235.2 L535.3,231.2 L537.9,228 L539.9,231.7 L542.6,233.8 L544.8,233 L547.2,228.5 L549.8,236.5 L552.1,238.3 L554.4,237.8 L556.7,238.7 L560.1,236 L563.6,225.5 L565.9,223.7 L567.7,210.9 L568.9,195.3 L570,180 L571.3,160 L572.5,120 L572.9,60 L573.9,40 L575.5,43 L576.8,52 L577.7,120 L578.5,160 L579.1,190 L580.9,221.8 L581.2,235.3 L582.5,234.6 L584.9,232.5 L587.9,230.9 L590.2,235 L594,234.3 L596.5,235.7 L599.8,236.9 L603.1,232.2 L606,225.6 L608.3,229.1 L610.5,234.7 L613,229.4 L614.9,238.2 L617.9,235.2 L620.4,231.8 L623.2,213.2 L624.5,206.9 L627,216.6 L629.1,214.7 L631.9,198.4 L633.6,184.9 L636.6,192.6 L639,196.5 L641.2,199.6 L643.2,206.4 L645.2,212 L647.3,197 L649.4,208.3 L651.4,214.4 L654.4,218.7 L656.4,216.1 L659.7,215.5 L662.9,217.7 L666.2,223.1 L666.2,245.7 Z" fill="#fffab6"/>
<path d="M101.3,245.7 L101.3,239.3 L103.8,239.8 L105.9,242.7 L107.9,240.8 L110.4,238.7 L111.5,239.1 L113.2,240.8 L115.8,239.1 L117.8,230.3 L119.7,221.3 L121,213 L122.7,207.9 L124.4,208.2 L126.8,220.7 L128.5,229 L130.6,218.9 L132.6,180.2 L133.8,151.6 L135,185.6 L136.2,223.1 L140,229.8 L145,234.4 L146.6,214.1 L148.2,202.7 L150.4,202.6 L151.5,194 L152.5,179.7 L153,160.7 L155,137.6 L156.8,133.5 L158.1,148 L158.7,167.6 L159.5,196 L160.5,205.8 L163.4,190.4 L166.5,217.9 L167.9,216.9 L172.8,199.3 L179.9,218.2 L184.1,212.9 L185.9,214.5 L188.7,209.4 L190.7,211.8 L193,208.1 L195.4,197.7 L197.5,202 L199.6,206.7 L202,213.3 L206,212.5 L208.8,213.3 L211.3,210.2 L214.4,212.9 L218.6,219.2 L219,225.9 L219.7,241.7 L221,242.8 L223.1,244.5 L225.2,244.2 L229.5,243.1 L233.3,243.8 L238,243.6 L243.2,244.5 L249.1,244.1 L253,244.5 L259.4,244.5 L263.6,243.3 L265.8,244.1 L266.6,243 L268.2,243.1 L269.2,244.6 L269.7,243.3 L270.5,242 L271,241.4 L272.9,239.4 L273.9,238.8 L274.4,238.9 L275.4,239.4 L276.7,240.2 L278.6,240.4 L280.1,241.5 L282.6,242.4 L284.2,243.8 L286.7,241.1 L288.9,242 L291.2,243.2 L293.3,242.5 L295.8,241.8 L297.7,242.4 L300.4,238 L303.2,239.3 L305.7,239.5 L309.8,241.8 L311.4,241.4 L314.7,187.2 L316.4,173.2 L318.5,174 L321,149.6 L324,166 L325.4,193 L327.9,194.7 L330,152 L332.4,147 L335,160 L336.1,198 L337.8,231.9 L339.4,235 L341,236.1 L342.5,221.7 L343.6,206.3 L345.3,209.8 L347.4,202.5 L348.4,197.8 L350.8,188.8 L352.2,177.5 L353.1,169.9 L355,157.6 L356.9,162.4 L357.4,179.3 L358.4,189.3 L359.4,209.5 L360.6,219.7 L363.9,209.2 L368.8,196.9 L371,214.3 L373,216.5 L375.4,216 L378.7,219.7 L380.4,221.9 L383.7,228.4 L389.4,228.1 L393.5,232.1 L396.8,236.3 L400.1,241.9 L404.3,242.8 L408.4,243.3 L410,243.6 L415,244 L424,243.6 L427,241.4 L430,237.8 L432.6,232 L434.6,235.7 L436,238.6 L437.6,238.6 L440,229.3 L442,225.6 L444,232 L446.6,239.7 L448.6,236.2 L451.4,240.2 L454.6,239.4 L457,239.9 L460.6,241.5 L464,239.9 L466,235.2 L469,221.4 L472,213.1 L474,218.8 L475.5,224.1 L478,224.2 L480,185 L483,150 L485,155 L487,171 L489,194 L491,185 L493,161 L495,155 L496.5,156 L499.1,136.5 L500.9,155.9 L501.7,202.5 L504.2,202.5 L506,150.7 L507.6,142.1 L509.4,166.6 L510.4,206.2 L511.8,223.7 L512.7,234.8 L514.7,235.8 L516.5,236.6 L519.4,233.2 L521.2,237.3 L522.9,241 L527.6,241.2 L529.4,238 L530.7,237.1 L532.5,237.8 L535.3,234.8 L537.9,232.3 L539.9,235.1 L542.6,236.8 L544.8,236.1 L547.2,232.8 L549.8,238.8 L552.1,240.1 L554.4,239.8 L556.7,240.4 L560.1,238.4 L563.6,230.5 L565.9,229.1 L567.7,216.5 L568.9,198 L570,180 L571.3,160 L572.5,120 L572.9,60 L573.9,40 L575.5,43 L576.8,52 L577.7,120 L578.5,160 L579.1,190 L580.9,225.6 L581.2,237.1 L582.5,237.5 L584.9,236.8 L587.9,235.7 L590.2,238.5 L594,238 L596.5,238.9 L599.8,239.8 L603.1,236.6 L606,232.1 L608.3,234.5 L610.5,238.3 L613,234.7 L614.9,240.6 L617.9,238.1 L620.4,235.1 L623.2,219.2 L624.5,213.4 L627,221 L629.1,219.4 L631.9,205.6 L633.6,194.2 L636.6,200.7 L639,204 L641.2,206.7 L643.2,212.7 L645.2,217.7 L647.3,205.6 L649.4,215.2 L651.4,220.4 L654.4,223.4 L656.4,220.8 L659.7,219.7 L662.9,221 L666.2,225.5 L666.2,245.7 Z" fill="#fff0a6"/>
<path d="M101.3,245.7 L101.3,239.7 L103.8,240.2 L105.9,242.9 L107.9,241.2 L110.4,239.2 L111.5,239.6 L113.2,241.2 L115.8,239.6 L117.8,237.1 L119.7,225.3 L121,216.5 L122.7,212 L124.4,212.2 L126.8,223.4 L128.5,230.8 L130.6,221.8 L132.6,187.3 L133.8,162.2 L135,192.6 L136.2,225.8 L140,231.8 L145,235.8 L146.6,217.9 L148.2,208 L150.4,208 L151.5,200.5 L152.5,188.1 L153,171.5 L155,151.6 L156.8,148.2 L158.1,160.9 L158.7,178 L159.5,202.6 L160.5,211.2 L163.4,198 L166.5,221.8 L167.9,221 L172.8,206.3 L179.9,222.8 L184.1,218.7 L185.9,220 L188.7,215.8 L190.7,217.8 L193,214.8 L195.4,206.2 L197.5,209.8 L199.6,213.6 L202,219.1 L206,218.4 L208.8,219.1 L211.3,216.5 L214.4,218.8 L218.6,223.9 L219,229.4 L219.7,242.6 L221,244 L223.1,245.6 L225.2,245.6 L229.5,245.6 L233.3,245.6 L238,245.6 L243.2,245.6 L249.1,245.6 L253,245.6 L259.4,245.6 L263.6,245.6 L265.8,245.6 L266.6,245.5 L268.2,245.3 L269.2,244.8 L269.7,244.2 L270.5,243.9 L271,243.9 L272.9,244 L273.9,244.1 L274.4,244.2 L275.4,244.5 L276.7,244.8 L278.6,244.9 L280.1,245.2 L282.6,245.3 L284.2,245.5 L286.7,245.2 L288.9,245.3 L291.2,245.5 L293.3,245.4 L295.8,245.4 L297.7,245.4 L300.4,245.1 L303.2,245.2 L305.7,245.3 L309.8,245.4 L311.4,245.4 L314.7,189.2 L316.4,173.2 L318.5,174 L321,149.6 L324,166 L325.4,193 L327.9,194.7 L330,152 L332.4,147 L335,160 L336.1,198 L337.8,234.2 L339.4,237.5 L341,238.1 L342.5,226.2 L343.6,213.1 L345.3,215.4 L347.4,209 L348.4,205 L350.8,197.3 L352.2,187.7 L353.1,181.3 L355,170.8 L356.9,174.9 L357.4,188.8 L358.4,196.5 L359.4,213.7 L360.6,222.5 L363.9,212.5 L368.8,201.3 L371,217.1 L373,219.3 L375.4,219.8 L378.7,224.2 L380.4,226.2 L383.7,231.9 L389.4,232.6 L393.5,236.4 L396.8,239.9 L400.1,243.7 L404.3,244.2 L408.4,244.5 L410,244.6 L415,244.8 L424,244.6 L427,243.5 L430,241.6 L432.6,238.3 L434.6,240.3 L436,241.9 L437.6,241.9 L440,236.9 L442,234.9 L444,238.3 L446.6,242.5 L448.6,240.6 L451.4,242.8 L454.6,242.3 L457,242.6 L460.6,243.5 L464,242.6 L466,240 L469,229.7 L472,221.8 L474,225.1 L475.5,228.8 L478,228.3 L480,187.4 L483,150 L485,155 L487,171 L489,194 L491,185 L493,161 L495,155 L496.5,156 L499.1,136.5 L500.9,155.9 L501.7,202.5 L504.2,202.8 L506,157.3 L507.6,154.7 L509.4,176.8 L510.4,211.5 L511.8,227.4 L512.7,237.3 L514.7,240.6 L516.5,241 L519.4,239.2 L521.2,241.4 L522.9,243.2 L527.6,242.8 L529.4,240.6 L530.7,239.9 L532.5,240.3 L535.3,238.3 L537.9,236.7 L539.9,238.6 L542.6,239.7 L544.8,239.2 L547.2,237 L549.8,241 L552.1,241.9 L554.4,241.7 L556.7,242.1 L560.1,240.8 L563.6,235.4 L565.9,234.5 L567.7,222.1 L568.9,205 L570,180 L571.3,160 L572.5,120 L572.9,60 L573.9,40 L575.5,43 L576.8,52 L577.7,120 L578.5,160 L579.1,191.4 L580.9,229.4 L581.2,238.9 L582.5,240.4 L584.9,241.1 L587.9,240.5 L590.2,242 L594,241.7 L596.5,242.2 L599.8,242.6 L603.1,241 L606,238.7 L608.3,239.9 L610.5,241.8 L613,240 L614.9,243.1 L617.9,241.1 L620.4,238.4 L623.2,225.2 L624.5,219.9 L627,225.4 L629.1,224.1 L631.9,212.8 L633.6,203.4 L636.6,208.8 L639,211.5 L641.2,213.9 L643.2,219.1 L645.2,223.4 L647.3,214.2 L649.4,222.1 L651.4,226.5 L654.4,228 L656.4,225.4 L659.7,223.8 L662.9,224.3 L666.2,227.8 L666.2,245.7 Z" fill="#fee593"/>
<path d="M101.3,245.7 L101.3,240.2 L103.8,240.6 L105.9,243.1 L107.9,241.5 L110.4,239.7 L111.5,240.1 L113.2,241.5 L115.8,240.1 L117.8,237.8 L119.7,229.2 L121,220 L122.7,216.1 L124.4,216.3 L126.8,226.1 L128.5,232.6 L130.6,224.6 L132.6,194.5 L133.8,172.9 L135,199.6 L136.2,228.6 L140,233.7 L145,237.2 L146.6,221.8 L148.2,213.3 L150.4,213.4 L151.5,207 L152.5,196.5 L153,182.4 L155,165.6 L156.8,162.9 L158.1,173.8 L158.7,188.4 L159.5,209.3 L160.5,216.5 L163.4,205.6 L166.5,225.8 L167.9,225.2 L172.8,213.4 L179.9,227.3 L184.1,224.4 L185.9,225.6 L188.7,222.3 L190.7,223.8 L193,221.5 L195.4,214.8 L197.5,217.5 L199.6,220.5 L202,224.8 L206,224.3 L208.8,224.8 L211.3,222.8 L214.4,224.6 L218.6,228.6 L219,232.9 L219.7,243.4 L221,245.1 L223.1,245.6 L225.2,245.6 L229.5,245.6 L233.3,245.6 L238,245.6 L243.2,245.6 L249.1,245.6 L253,245.6 L259.4,245.6 L263.6,245.6 L265.8,245.6 L266.6,245.5 L268.2,245.3 L269.2,244.9 L269.7,244.3 L270.5,244.1 L271,244 L272.9,244.1 L273.9,244.2 L274.4,244.3 L275.4,244.6 L276.7,244.8 L278.6,245 L280.1,245.2 L282.6,245.4 L284.2,245.5 L286.7,245.3 L288.9,245.4 L291.2,245.5 L293.3,245.4 L295.8,245.4 L297.7,245.5 L300.4,245.2 L303.2,245.3 L305.7,245.3 L309.8,245.5 L311.4,245.4 L314.7,197.4 L316.4,178.3 L318.5,179 L321,156.3 L324,171.6 L325.4,196.7 L327.9,198.3 L330,158.6 L332.4,153.9 L335,166 L336.1,202.4 L337.8,236.6 L339.4,240.1 L341,240.1 L342.5,230.7 L343.6,220 L345.3,221 L347.4,215.5 L348.4,212.1 L350.8,205.8 L352.2,197.9 L353.1,192.6 L355,183.9 L356.9,187.3 L357.4,198.2 L358.4,203.6 L359.4,217.8 L360.6,225.2 L363.9,215.7 L368.8,205.6 L371,219.9 L373,222.2 L375.4,223.6 L378.7,228.6 L380.4,230.6 L383.7,235.5 L389.4,237.1 L393.5,240.7 L396.8,243.5 L400.1,245.6 L404.3,245.6 L408.4,245.6 L410,245.6 L415,245.7 L424,245.6 L427,245.6 L430,245.3 L432.6,244.7 L434.6,244.9 L436,245.2 L437.6,245.2 L440,244.5 L442,244.2 L444,244.7 L446.6,245.2 L448.6,245 L451.4,245.3 L454.6,245.2 L457,245.3 L460.6,245.4 L464,245.3 L466,244.9 L469,237.9 L472,230.6 L474,231.4 L475.5,233.4 L478,232.3 L480,194.7 L483,150 L485,155 L487,171 L489,194 L491,185 L493,161 L495,155 L496.5,156 L499.1,136.5 L500.9,155.9 L501.7,202.5 L504.2,208 L506,168.8 L507.6,167.3 L509.4,187.1 L510.4,216.9 L511.8,231.2 L512.7,239.8 L514.7,245.4 L516.5,245.4 L519.4,245.3 L521.2,245.4 L522.9,245.3 L527.6,244.4 L529.4,243.2 L530.7,242.7 L532.5,242.9 L535.3,241.9 L537.9,241 L539.9,242 L542.6,242.6 L544.8,242.4 L547.2,241.2 L549.8,243.3 L552.1,243.7 L554.4,243.6 L556.7,243.9 L560.1,243.2 L563.6,240.4 L565.9,239.9 L567.7,227.7 L568.9,212.1 L570,189.2 L571.3,172 L572.5,137.6 L572.9,86 L573.9,68.8 L575.5,71.4 L576.8,79.1 L577.7,137.6 L578.5,172 L579.1,199.1 L580.9,233.2 L581.2,240.7 L582.5,243.3 L584.9,245.4 L587.9,245.3 L590.2,245.4 L594,245.4 L596.5,245.4 L599.8,245.5 L603.1,245.3 L606,245.2 L608.3,245.3 L610.5,245.4 L613,245.3 L614.9,245.5 L617.9,244.1 L620.4,241.6 L623.2,231.2 L624.5,226.5 L627,229.9 L629.1,228.9 L631.9,220 L633.6,212.6 L636.6,216.8 L639,219 L641.2,221.1 L643.2,225.4 L645.2,229.1 L647.3,222.8 L649.4,229 L651.4,232.5 L654.4,232.7 L656.4,230.1 L659.7,227.9 L662.9,227.6 L666.2,230.1 L666.2,245.7 Z" fill="#fed884"/>
<path d="M101.3,245.7 L101.3,240.6 L103.8,241 L105.9,243.3 L107.9,241.9 L110.4,240.2 L111.5,240.5 L113.2,241.9 L115.8,240.5 L117.8,238.4 L119.7,233.2 L121,223.5 L122.7,220.1 L124.4,220.3 L126.8,228.8 L128.5,234.4 L130.6,227.5 L132.6,201.7 L133.8,183.5 L135,206.7 L136.2,231.3 L140,235.6 L145,238.6 L146.6,225.7 L148.2,218.6 L150.4,218.8 L151.5,213.6 L152.5,204.9 L153,193.2 L155,179.5 L156.8,177.6 L158.1,186.8 L158.7,198.7 L159.5,215.9 L160.5,221.9 L163.4,213.2 L166.5,229.7 L167.9,229.3 L172.8,220.4 L179.9,231.9 L184.1,230.2 L185.9,231.1 L188.7,228.8 L190.7,229.9 L193,228.2 L195.4,223.3 L197.5,225.3 L199.6,227.5 L202,230.6 L206,230.2 L208.8,230.6 L211.3,229.1 L214.4,230.4 L218.6,233.3 L219,236.5 L219.7,244.3 L221,245.6 L223.1,245.7 L225.2,245.6 L229.5,245.6 L233.3,245.6 L238,245.6 L243.2,245.7 L249.1,245.6 L253,245.7 L259.4,245.7 L263.6,245.6 L265.8,245.6 L266.6,245.6 L268.2,245.3 L269.2,244.9 L269.7,244.4 L270.5,244.2 L271,244.2 L272.9,244.2 L273.9,244.3 L274.4,244.4 L275.4,244.7 L276.7,244.9 L278.6,245.1 L280.1,245.2 L282.6,245.4 L284.2,245.5 L286.7,245.3 L288.9,245.4 L291.2,245.5 L293.3,245.5 L295.8,245.4 L297.7,245.5 L300.4,245.2 L303.2,245.3 L305.7,245.3 L309.8,245.5 L311.4,245.5 L314.7,205.6 L316.4,188.4 L318.5,189.1 L321,169.8 L324,182.7 L325.4,204.1 L327.9,205.4 L330,171.7 L332.4,167.7 L335,178 L336.1,209.1 L337.8,238.9 L339.4,242.6 L341,242.1 L342.5,235.1 L343.6,226.8 L345.3,226.6 L347.4,221.9 L348.4,219.3 L350.8,214.4 L352.2,208.1 L353.1,203.9 L355,197.1 L356.9,199.7 L357.4,207.6 L358.4,210.8 L359.4,222 L360.6,227.9 L363.9,219 L368.8,209.9 L371,222.7 L373,225 L375.4,227.4 L378.7,233 L380.4,235 L383.7,239 L389.4,241.7 L393.5,244.9 L396.8,245.5 L400.1,245.6 L404.3,245.6 L408.4,245.6 L410,245.6 L415,245.7 L424,245.6 L427,245.6 L430,245.3 L432.6,244.8 L434.6,245 L436,245.2 L437.6,245.2 L440,244.6 L442,244.3 L444,244.8 L446.6,245.3 L448.6,245 L451.4,245.3 L454.6,245.3 L457,245.3 L460.6,245.4 L464,245.3 L466,245 L469,244.1 L472,239.3 L474,237.8 L475.5,238.1 L478,236.4 L480,202.1 L483,150 L485,155 L487,171 L489,194 L491,185 L493,161 L495,155 L496.5,156 L499.1,136.5 L500.9,156.6 L501.7,205.7 L504.2,213.3 L506,180.3 L507.6,179.9 L509.4,197.4 L510.4,222.2 L511.8,234.9 L512.7,242.4 L514.7,245.4 L516.5,245.4 L519.4,245.3 L521.2,245.4 L522.9,245.6 L527.6,245.6 L529.4,245.5 L530.7,245.5 L532.5,245.5 L535.3,245.4 L537.9,245.4 L539.9,245.5 L542.6,245.5 L544.8,245.5 L547.2,245.4 L549.8,245.5 L552.1,245.6 L554.4,245.6 L556.7,245.6 L560.1,245.5 L563.6,245.3 L565.9,245.3 L567.7,233.3 L568.9,219.2 L570,198.4 L571.3,184 L572.5,155.2 L572.9,112 L573.9,97.6 L575.5,99.8 L576.8,106.2 L577.7,155.2 L578.5,184 L579.1,206.9 L580.9,237 L581.2,242.5 L582.5,245.4 L584.9,245.4 L587.9,245.3 L590.2,245.4 L594,245.4 L596.5,245.5 L599.8,245.5 L603.1,245.4 L606,245.2 L608.3,245.3 L610.5,245.4 L613,245.3 L614.9,245.5 L617.9,245.5 L620.4,244.9 L623.2,237.2 L624.5,233 L627,234.3 L629.1,233.6 L631.9,227.2 L633.6,221.9 L636.6,224.9 L639,226.4 L641.2,228.3 L643.2,231.8 L645.2,234.7 L647.3,231.3 L649.4,235.9 L651.4,238.5 L654.4,237.3 L656.4,234.7 L659.7,232.1 L662.9,230.9 L666.2,232.4 L666.2,245.7 Z" fill="#fdc776"/>
<path d="M101.3,245.7 L101.3,241.1 L103.8,241.5 L105.9,243.5 L107.9,242.2 L110.4,240.7 L111.5,241 L113.2,242.2 L115.8,241 L117.8,239.1 L119.7,237.1 L121,227.1 L122.7,224.2 L124.4,224.3 L126.8,231.4 L128.5,236.2 L130.6,230.4 L132.6,208.9 L133.8,194.2 L135,213.7 L136.2,234 L140,237.5 L145,239.9 L146.6,229.5 L148.2,223.9 L150.4,224.2 L151.5,220.1 L152.5,213.3 L153,204.1 L155,193.5 L156.8,192.3 L158.1,199.7 L158.7,209.1 L159.5,222.5 L160.5,227.3 L163.4,220.8 L166.5,233.6 L167.9,233.4 L172.8,227.5 L179.9,236.5 L184.1,236 L185.9,236.7 L188.7,235.2 L190.7,235.9 L193,234.9 L195.4,231.8 L197.5,233.1 L199.6,234.4 L202,236.4 L206,236.1 L208.8,236.4 L211.3,235.4 L214.4,236.2 L218.6,238.1 L219,240 L219.7,245.2 L221,245.6 L223.1,245.7 L225.2,245.6 L229.5,245.6 L233.3,245.6 L238,245.6 L243.2,245.7 L249.1,245.6 L253,245.7 L259.4,245.7 L263.6,245.6 L265.8,245.6 L266.6,245.6 L268.2,245.4 L269.2,245 L269.7,244.5 L270.5,244.3 L271,244.3 L272.9,244.4 L273.9,244.4 L274.4,244.6 L275.4,244.8 L276.7,245 L278.6,245.1 L280.1,245.3 L282.6,245.4 L284.2,245.5 L286.7,245.4 L288.9,245.4 L291.2,245.5 L293.3,245.5 L295.8,245.5 L297.7,245.5 L300.4,245.2 L303.2,245.3 L305.7,245.4 L309.8,245.5 L311.4,245.5 L314.7,213.8 L316.4,198.6 L318.5,199.1 L321,183.2 L324,193.9 L325.4,211.4 L327.9,212.5 L330,184.8 L332.4,181.5 L335,190 L336.1,215.8 L337.8,241.3 L339.4,245.1 L341,244.1 L342.5,239.6 L343.6,233.6 L345.3,232.3 L347.4,228.4 L348.4,226.5 L350.8,222.9 L352.2,218.3 L353.1,215.2 L355,210.2 L356.9,212.1 L357.4,217 L358.4,217.9 L359.4,226.1 L360.6,230.6 L363.9,222.3 L368.8,214.3 L371,225.5 L373,227.9 L375.4,231.2 L378.7,237.5 L380.4,239.3 L383.7,242.6 L389.4,245.2 L393.5,245.3 L396.8,245.5 L400.1,245.6 L404.3,245.6 L408.4,245.6 L410,245.7 L415,245.7 L424,245.7 L427,245.6 L430,245.4 L432.6,244.8 L434.6,245.1 L436,245.3 L437.6,245.3 L440,244.7 L442,244.4 L444,244.8 L446.6,245.3 L448.6,245.1 L451.4,245.4 L454.6,245.3 L457,245.3 L460.6,245.4 L464,245.3 L466,245 L469,244.3 L472,243.8 L474,244.1 L475.5,242.7 L478,240.4 L480,209.4 L483,156.6 L485,161.2 L487,176.1 L489,197.5 L491,189.2 L493,166.8 L495,161.2 L496.5,162.2 L499.1,144 L500.9,168.6 L501.7,211.3 L504.2,218.5 L506,191.8 L507.6,192.5 L509.4,207.7 L510.4,227.5 L511.8,238.7 L512.7,244.9 L514.7,245.4 L516.5,245.4 L519.4,245.3 L521.2,245.5 L522.9,245.6 L527.6,245.6 L529.4,245.5 L530.7,245.5 L532.5,245.5 L535.3,245.5 L537.9,245.4 L539.9,245.5 L542.6,245.5 L544.8,245.5 L547.2,245.4 L549.8,245.6 L552.1,245.6 L554.4,245.6 L556.7,245.6 L560.1,245.5 L563.6,245.4 L565.9,245.4 L567.7,238.8 L568.9,226.3 L570,207.6 L571.3,196 L572.5,172.8 L572.9,138 L573.9,126.4 L575.5,128.1 L576.8,133.4 L577.7,172.8 L578.5,196 L579.1,214.7 L580.9,240.9 L581.2,244.2 L582.5,245.5 L584.9,245.4 L587.9,245.4 L590.2,245.5 L594,245.4 L596.5,245.5 L599.8,245.5 L603.1,245.4 L606,245.3 L608.3,245.3 L610.5,245.5 L613,245.3 L614.9,245.5 L617.9,245.5 L620.4,245.5 L623.2,243.2 L624.5,239.5 L627,238.7 L629.1,238.3 L631.9,234.4 L633.6,231.1 L636.6,233 L639,233.9 L641.2,235.4 L643.2,238.2 L645.2,240.4 L647.3,239.9 L649.4,242.8 L651.4,244.5 L654.4,242 L656.4,239.4 L659.7,236.2 L662.9,234.2 L666.2,234.8 L666.2,245.7 Z" fill="#fdb768"/>
<path d="M101.3,245.7 L101.3,241.6 L103.8,241.9 L105.9,243.8 L107.9,242.6 L110.4,241.2 L111.5,241.5 L113.2,242.6 L115.8,241.5 L117.8,239.8 L119.7,241.1 L121,230.6 L122.7,228.2 L124.4,228.4 L126.8,234.1 L128.5,238 L130.6,233.3 L132.6,216 L133.8,204.8 L135,220.7 L136.2,236.7 L140,239.4 L145,241.3 L146.6,233.4 L148.2,229.3 L150.4,229.6 L151.5,226.6 L152.5,221.7 L153,214.9 L155,207.5 L156.8,207 L158.1,212.6 L158.7,219.4 L159.5,229.2 L160.5,232.6 L163.4,228.3 L166.5,237.5 L167.9,237.5 L172.8,234.5 L179.9,241 L184.1,241.7 L185.9,242.2 L188.7,241.7 L190.7,241.9 L193,241.5 L195.4,240.4 L197.5,240.9 L199.6,241.4 L202,242.1 L206,242 L208.8,242.1 L211.3,241.8 L214.4,242.1 L218.6,242.8 L219,243.5 L219.7,245.6 L221,245.6 L223.1,245.7 L225.2,245.7 L229.5,245.6 L233.3,245.6 L238,245.6 L243.2,245.7 L249.1,245.6 L253,245.7 L259.4,245.7 L263.6,245.6 L265.8,245.6 L266.6,245.6 L268.2,245.4 L269.2,245.1 L269.7,244.6 L270.5,244.5 L271,244.5 L272.9,244.5 L273.9,244.6 L274.4,244.7 L275.4,244.9 L276.7,245.1 L278.6,245.2 L280.1,245.3 L282.6,245.4 L284.2,245.6 L286.7,245.4 L288.9,245.5 L291.2,245.5 L293.3,245.5 L295.8,245.5 L297.7,245.5 L300.4,245.3 L303.2,245.4 L305.7,245.4 L309.8,245.5 L311.4,245.5 L314.7,222 L316.4,208.7 L318.5,209.1 L321,196.7 L324,205.1 L325.4,218.8 L327.9,219.7 L330,197.9 L332.4,195.4 L335,202 L336.1,222.4 L337.8,243.6 L339.4,245.5 L341,245.5 L342.5,244.1 L343.6,240.4 L345.3,237.9 L347.4,234.9 L348.4,233.7 L350.8,231.4 L352.2,228.5 L353.1,226.6 L355,223.4 L356.9,224.5 L357.4,226.5 L358.4,225.1 L359.4,230.2 L360.6,233.3 L363.9,225.5 L368.8,218.6 L371,228.3 L373,230.8 L375.4,235 L378.7,241.9 L380.4,243.7 L383.7,245.1 L389.4,245.2 L393.5,245.4 L396.8,245.5 L400.1,245.6 L404.3,245.6 L408.4,245.7 L410,245.7 L415,245.7 L424,245.7 L427,245.6 L430,245.4 L432.6,244.9 L434.6,245.1 L436,245.3 L437.6,245.3 L440,244.8 L442,244.6 L444,244.9 L446.6,245.4 L448.6,245.2 L451.4,245.4 L454.6,245.3 L457,245.4 L460.6,245.5 L464,245.4 L466,245.1 L469,244.4 L472,244 L474,244.2 L475.5,244.5 L478,244.4 L480,216.7 L483,169.7 L485,173.7 L487,186.4 L489,204.6 L491,197.5 L493,178.4 L495,173.7 L496.5,174.5 L499.1,159 L500.9,180.6 L501.7,216.9 L504.2,223.8 L506,203.4 L507.6,205.1 L509.4,217.9 L510.4,232.8 L511.8,242.5 L512.7,245.4 L514.7,245.4 L516.5,245.5 L519.4,245.4 L521.2,245.5 L522.9,245.6 L527.6,245.6 L529.4,245.6 L530.7,245.5 L532.5,245.6 L535.3,245.5 L537.9,245.4 L539.9,245.5 L542.6,245.5 L544.8,245.5 L547.2,245.5 L549.8,245.6 L552.1,245.6 L554.4,245.6 L556.7,245.6 L560.1,245.6 L563.6,245.4 L565.9,245.4 L567.7,244.4 L568.9,233.3 L570,216.8 L571.3,208 L572.5,190.4 L572.9,164 L573.9,155.2 L575.5,156.5 L576.8,160.5 L577.7,190.4 L578.5,208 L579.1,222.4 L580.9,244.7 L581.2,245.5 L582.5,245.5 L584.9,245.4 L587.9,245.4 L590.2,245.5 L594,245.5 L596.5,245.5 L599.8,245.5 L603.1,245.4 L606,245.3 L608.3,245.4 L610.5,245.5 L613,245.4 L614.9,245.6 L617.9,245.5 L620.4,245.5 L623.2,245.3 L624.5,245.2 L627,243.1 L629.1,243 L631.9,241.5 L633.6,240.4 L636.6,241 L639,241.4 L641.2,242.6 L643.2,244.5 L645.2,245.2 L647.3,245 L649.4,245.1 L651.4,245 L654.4,244.8 L656.4,244 L659.7,240.4 L662.9,237.5 L666.2,237.1 L666.2,245.7 Z" fill="#fba35c"/>
<path d="M101.3,245.7 L101.3,242 L103.8,242.3 L105.9,244 L107.9,242.9 L110.4,241.7 L111.5,241.9 L113.2,242.9 L115.8,241.9 L117.8,240.4 L119.7,243.5 L121,234.1 L122.7,232.3 L124.4,232.4 L126.8,236.8 L128.5,239.8 L130.6,236.2 L132.6,223.2 L133.8,215.4 L135,227.8 L136.2,239.4 L140,241.4 L145,242.7 L146.6,237.3 L148.2,234.6 L150.4,235 L151.5,233.2 L152.5,230.1 L153,225.8 L155,221.5 L156.8,221.7 L158.1,225.5 L158.7,229.8 L159.5,235.8 L160.5,238 L163.4,235.9 L166.5,241.4 L167.9,241.7 L172.8,241.6 L179.9,245.1 L184.1,245 L185.9,245.1 L188.7,245 L190.7,245 L193,244.9 L195.4,244.7 L197.5,244.8 L199.6,244.9 L202,245 L206,245 L208.8,245 L211.3,245 L214.4,245 L218.6,245.2 L219,245.3 L219.7,245.6 L221,245.6 L223.1,245.7 L225.2,245.7 L229.5,245.6 L233.3,245.6 L238,245.6 L243.2,245.7 L249.1,245.7 L253,245.7 L259.4,245.7 L263.6,245.6 L265.8,245.7 L266.6,245.6 L268.2,245.4 L269.2,245.2 L269.7,244.8 L270.5,244.6 L271,244.6 L272.9,244.6 L273.9,244.7 L274.4,244.8 L275.4,245 L276.7,245.1 L278.6,245.2 L280.1,245.4 L282.6,245.5 L284.2,245.6 L286.7,245.4 L288.9,245.5 L291.2,245.6 L293.3,245.5 L295.8,245.5 L297.7,245.5 L300.4,245.3 L303.2,245.4 L305.7,245.4 L309.8,245.5 L311.4,245.5 L314.7,230.2 L316.4,218.9 L318.5,219.2 L321,210.1 L324,216.2 L325.4,226.2 L327.9,226.8 L330,211 L332.4,209.2 L335,214 L336.1,229.1 L337.8,245.5 L339.4,245.5 L341,245.5 L342.5,245.2 L343.6,244.9 L345.3,243.5 L347.4,241.4 L348.4,240.9 L350.8,239.9 L352.2,238.7 L353.1,237.9 L355,236.5 L356.9,237 L357.4,235.9 L358.4,232.2 L359.4,234.4 L360.6,236.1 L363.9,228.8 L368.8,223 L371,231.1 L373,233.6 L375.4,238.8 L378.7,244.8 L380.4,244.9 L383.7,245.2 L389.4,245.3 L393.5,245.4 L396.8,245.5 L400.1,245.6 L404.3,245.6 L408.4,245.7 L410,245.7 L415,245.7 L424,245.7 L427,245.6 L430,245.4 L432.6,245 L434.6,245.2 L436,245.3 L437.6,245.3 L440,244.9 L442,244.7 L444,245 L446.6,245.4 L448.6,245.2 L451.4,245.4 L454.6,245.4 L457,245.4 L460.6,245.5 L464,245.4 L466,245.2 L469,244.6 L472,244.2 L474,244.4 L475.5,244.6 L478,244.6 L480,224 L483,182.8 L485,186.1 L487,196.6 L489,211.7 L491,205.8 L493,190 L495,186.1 L496.5,186.8 L499.1,173.9 L500.9,192.5 L501.7,222.5 L504.2,229 L506,214.9 L507.6,217.7 L509.4,228.2 L510.4,238.1 L511.8,245 L512.7,245.4 L514.7,245.5 L516.5,245.5 L519.4,245.4 L521.2,245.5 L522.9,245.6 L527.6,245.6 L529.4,245.6 L530.7,245.6 L532.5,245.6 L535.3,245.5 L537.9,245.5 L539.9,245.5 L542.6,245.6 L544.8,245.5 L547.2,245.5 L549.8,245.6 L552.1,245.6 L554.4,245.6 L556.7,245.6 L560.1,245.6 L563.6,245.4 L565.9,245.4 L567.7,245.2 L568.9,240.4 L570,226 L571.3,220 L572.5,208 L572.9,190 L573.9,184 L575.5,184.9 L576.8,187.6 L577.7,208 L578.5,220 L579.1,230.2 L580.9,245.3 L581.2,245.5 L582.5,245.5 L584.9,245.5 L587.9,245.4 L590.2,245.5 L594,245.5 L596.5,245.5 L599.8,245.5 L603.1,245.5 L606,245.3 L608.3,245.4 L610.5,245.5 L613,245.4 L614.9,245.6 L617.9,245.5 L620.4,245.5 L623.2,245.3 L624.5,245.3 L627,245.4 L629.1,245.4 L631.9,245.2 L633.6,245 L636.6,245.1 L639,245.1 L641.2,245.2 L643.2,245.2 L645.2,245.3 L647.3,245.1 L649.4,245.1 L651.4,245.1 L654.4,244.9 L656.4,244.6 L659.7,244.2 L662.9,240.8 L666.2,239.4 L666.2,245.7 Z" fill="#f98e52"/>
<path d="M101.3,245.7 L101.3,242.5 L103.8,242.7 L105.9,244.2 L107.9,243.3 L110.4,242.2 L111.5,242.4 L113.2,243.3 L115.8,242.4 L117.8,241.1 L119.7,243.8 L121,237.6 L122.7,236.3 L124.4,236.4 L126.8,239.5 L128.5,241.6 L130.6,239.1 L132.6,230.4 L133.8,226.1 L135,234.8 L136.2,242.1 L140,243.3 L145,244 L146.6,241.2 L148.2,239.9 L150.4,240.4 L151.5,239.7 L152.5,238.5 L153,236.6 L155,235.5 L156.8,236.4 L158.1,238.4 L158.7,240.2 L159.5,242.4 L160.5,243.3 L163.4,243.5 L166.5,244.9 L167.9,244.9 L172.8,244.6 L179.9,245.1 L184.1,245.1 L185.9,245.1 L188.7,245.1 L190.7,245.1 L193,245 L195.4,244.8 L197.5,244.9 L199.6,245 L202,245.1 L206,245.1 L208.8,245.1 L211.3,245.1 L214.4,245.1 L218.6,245.2 L219,245.3 L219.7,245.6 L221,245.7 L223.1,245.7 L225.2,245.7 L229.5,245.6 L233.3,245.7 L238,245.6 L243.2,245.7 L249.1,245.7 L253,245.7 L259.4,245.7 L263.6,245.6 L265.8,245.7 L266.6,245.6 L268.2,245.5 L269.2,245.2 L269.7,244.9 L270.5,244.7 L271,244.7 L272.9,244.8 L273.9,244.8 L274.4,244.9 L275.4,245 L276.7,245.2 L278.6,245.3 L280.1,245.4 L282.6,245.5 L284.2,245.6 L286.7,245.5 L288.9,245.5 L291.2,245.6 L293.3,245.5 L295.8,245.5 L297.7,245.6 L300.4,245.4 L303.2,245.4 L305.7,245.5 L309.8,245.6 L311.4,245.5 L314.7,238.4 L316.4,229 L318.5,229.2 L321,223.6 L324,227.4 L325.4,233.6 L327.9,234 L330,224.1 L332.4,223 L335,226 L336.1,235.8 L337.8,245.5 L339.4,245.6 L341,245.6 L342.5,245.3 L343.6,245 L345.3,244.9 L347.4,244.7 L348.4,244.6 L350.8,244.3 L352.2,243.9 L353.1,243.7 L355,243.3 L356.9,243.3 L357.4,243.8 L358.4,239.3 L359.4,238.5 L360.6,238.8 L363.9,232 L368.8,227.3 L371,233.8 L373,236.5 L375.4,242.6 L378.7,244.9 L380.4,245 L383.7,245.3 L389.4,245.3 L393.5,245.4 L396.8,245.5 L400.1,245.6 L404.3,245.7 L408.4,245.7 L410,245.7 L415,245.7 L424,245.7 L427,245.6 L430,245.5 L432.6,245.1 L434.6,245.3 L436,245.4 L437.6,245.4 L440,245 L442,244.8 L444,245.1 L446.6,245.4 L448.6,245.3 L451.4,245.5 L454.6,245.4 L457,245.4 L460.6,245.5 L464,245.4 L466,245.2 L469,244.7 L472,244.4 L474,244.6 L475.5,244.8 L478,244.7 L480,231.3 L483,195.9 L485,198.5 L487,206.9 L489,218.8 L491,214.1 L493,201.7 L495,198.5 L496.5,199.1 L499.1,188.9 L500.9,204.5 L501.7,228.1 L504.2,234.2 L506,226.4 L507.6,230.3 L509.4,238.5 L510.4,243.5 L511.8,245.1 L512.7,245.4 L514.7,245.5 L516.5,245.5 L519.4,245.5 L521.2,245.5 L522.9,245.6 L527.6,245.6 L529.4,245.6 L530.7,245.6 L532.5,245.6 L535.3,245.5 L537.9,245.5 L539.9,245.5 L542.6,245.6 L544.8,245.6 L547.2,245.5 L549.8,245.6 L552.1,245.6 L554.4,245.6 L556.7,245.6 L560.1,245.6 L563.6,245.5 L565.9,245.5 L567.7,245.3 L568.9,244.9 L570,235.2 L571.3,232 L572.5,225.6 L572.9,216 L573.9,212.8 L575.5,213.3 L576.8,214.7 L577.7,225.6 L578.5,232 L579.1,238 L580.9,245.4 L581.2,245.6 L582.5,245.5 L584.9,245.5 L587.9,245.5 L590.2,245.5 L594,245.5 L596.5,245.5 L599.8,245.6 L603.1,245.5 L606,245.4 L608.3,245.4 L610.5,245.5 L613,245.5 L614.9,245.6 L617.9,245.6 L620.4,245.5 L623.2,245.4 L624.5,245.3 L627,245.4 L629.1,245.4 L631.9,245.2 L633.6,245.1 L636.6,245.2 L639,245.2 L641.2,245.2 L643.2,245.3 L645.2,245.3 L647.3,245.2 L649.4,245.2 L651.4,245.2 L654.4,245 L656.4,244.8 L659.7,244.4 L662.9,244 L666.2,241.7 L666.2,245.7 Z" fill="#f57748"/>
<path d="M101.3,245.7 L101.3,242.9 L103.8,243.2 L105.9,244.4 L107.9,243.6 L110.4,242.7 L111.5,242.9 L113.2,243.6 L115.8,242.9 L117.8,241.7 L119.7,244 L121,241.1 L122.7,240.4 L124.4,240.5 L126.8,242.2 L128.5,243.4 L130.6,242 L132.6,237.6 L133.8,236.7 L135,241.8 L136.2,244.9 L140,245.2 L145,245.4 L146.6,244.9 L148.2,244.6 L150.4,244.6 L151.5,244.4 L152.5,244.1 L153,243.6 L155,243.1 L156.8,243 L158.1,243.3 L158.7,243.8 L159.5,244.5 L160.5,244.7 L163.4,244.4 L166.5,245 L167.9,245 L172.8,244.7 L179.9,245.2 L184.1,245.2 L185.9,245.2 L188.7,245.1 L190.7,245.2 L193,245.1 L195.4,245 L197.5,245 L199.6,245.1 L202,245.2 L206,245.2 L208.8,245.2 L211.3,245.2 L214.4,245.2 L218.6,245.3 L219,245.4 L219.7,245.6 L221,245.7 L223.1,245.7 L225.2,245.7 L229.5,245.6 L233.3,245.7 L238,245.7 L243.2,245.7 L249.1,245.7 L253,245.7 L259.4,245.7 L263.6,245.6 L265.8,245.7 L266.6,245.6 L268.2,245.5 L269.2,245.3 L269.7,245 L270.5,244.9 L271,244.9 L272.9,244.9 L273.9,244.9 L274.4,245 L275.4,245.1 L276.7,245.3 L278.6,245.4 L280.1,245.5 L282.6,245.5 L284.2,245.6 L286.7,245.5 L288.9,245.5 L291.2,245.6 L293.3,245.6 L295.8,245.6 L297.7,245.6 L300.4,245.4 L303.2,245.5 L305.7,245.5 L309.8,245.6 L311.4,245.6 L314.7,244.6 L316.4,239.2 L318.5,239.2 L321,237.1 L324,238.5 L325.4,241 L327.9,241.1 L330,237.3 L332.4,236.8 L335,238 L336.1,242.4 L337.8,245.5 L339.4,245.6 L341,245.6 L342.5,245.4 L343.6,245.1 L345.3,245 L347.4,244.8 L348.4,244.7 L350.8,244.5 L352.2,244.2 L353.1,244 L355,243.6 L356.9,243.7 L357.4,244 L358.4,244.2 L359.4,242.7 L360.6,241.5 L363.9,235.3 L368.8,231.6 L371,236.6 L373,239.3 L375.4,244.9 L378.7,245 L380.4,245.1 L383.7,245.3 L389.4,245.4 L393.5,245.5 L396.8,245.6 L400.1,245.6 L404.3,245.7 L408.4,245.7 L410,245.7 L415,245.7 L424,245.7 L427,245.6 L430,245.5 L432.6,245.2 L434.6,245.3 L436,245.4 L437.6,245.4 L440,245.1 L442,244.9 L444,245.2 L446.6,245.5 L448.6,245.3 L451.4,245.5 L454.6,245.5 L457,245.5 L460.6,245.5 L464,245.5 L466,245.3 L469,244.8 L472,244.5 L474,244.7 L475.5,244.9 L478,244.9 L480,238.6 L483,209.1 L485,211 L487,217.1 L489,225.9 L491,222.5 L493,213.3 L495,211 L496.5,211.4 L499.1,203.9 L500.9,216.4 L501.7,233.7 L504.2,239.5 L506,237.9 L507.6,242.6 L509.4,243.4 L510.4,244.5 L511.8,245.2 L512.7,245.5 L514.7,245.5 L516.5,245.5 L519.4,245.5 L521.2,245.6 L522.9,245.6 L527.6,245.6 L529.4,245.6 L530.7,245.6 L532.5,245.6 L535.3,245.6 L537.9,245.5 L539.9,245.6 L542.6,245.6 L544.8,245.6 L547.2,245.5 L549.8,245.6 L552.1,245.6 L554.4,245.6 L556.7,245.6 L560.1,245.6 L563.6,245.5 L565.9,245.5 L567.7,245.3 L568.9,245 L570,244.4 L571.3,244 L572.5,243.2 L572.9,242 L573.9,241.6 L575.5,241.6 L576.8,241.8 L577.7,243.2 L578.5,244 L579.1,244.6 L580.9,245.4 L581.2,245.6 L582.5,245.6 L584.9,245.5 L587.9,245.5 L590.2,245.6 L594,245.5 L596.5,245.6 L599.8,245.6 L603.1,245.5 L606,245.4 L608.3,245.5 L610.5,245.6 L613,245.5 L614.9,245.6 L617.9,245.6 L620.4,245.6 L623.2,245.4 L624.5,245.4 L627,245.5 L629.1,245.4 L631.9,245.3 L633.6,245.2 L636.6,245.2 L639,245.3 L641.2,245.3 L643.2,245.3 L645.2,245.4 L647.3,245.2 L649.4,245.3 L651.4,245.3 L654.4,245.1 L656.4,244.9 L659.7,244.6 L662.9,244.2 L666.2,244.1 L666.2,245.7 Z" fill="#ee6445"/>
<path d="M101.3,245.7 L101.3,243.4 L103.8,243.6 L105.9,244.6 L107.9,244 L110.4,243.2 L111.5,243.4 L113.2,244 L115.8,243.4 L117.8,242.4 L119.7,244.3 L121,244.6 L122.7,244.5 L124.4,244.5 L126.8,244.9 L128.5,245.2 L130.6,244.9 L132.6,243.7 L133.8,242.8 L135,243.9 L136.2,245 L140,245.3 L145,245.5 L146.6,245 L148.2,244.8 L150.4,244.8 L151.5,244.6 L152.5,244.3 L153,244 L155,243.5 L156.8,243.4 L158.1,243.7 L158.7,244.1 L159.5,244.7 L160.5,244.9 L163.4,244.6 L166.5,245.2 L167.9,245.2 L172.8,244.9 L179.9,245.3 L184.1,245.3 L185.9,245.3 L188.7,245.2 L190.7,245.3 L193,245.2 L195.4,245.1 L197.5,245.1 L199.6,245.2 L202,245.3 L206,245.3 L208.8,245.3 L211.3,245.2 L214.4,245.3 L218.6,245.4 L219,245.4 L219.7,245.7 L221,245.7 L223.1,245.7 L225.2,245.7 L229.5,245.7 L233.3,245.7 L238,245.7 L243.2,245.7 L249.1,245.7 L253,245.7 L259.4,245.7 L263.6,245.7 L265.8,245.7 L266.6,245.6 L268.2,245.5 L269.2,245.4 L269.7,245.1 L270.5,245 L271,245 L272.9,245 L273.9,245.1 L274.4,245.1 L275.4,245.2 L276.7,245.3 L278.6,245.4 L280.1,245.5 L282.6,245.6 L284.2,245.6 L286.7,245.5 L288.9,245.6 L291.2,245.6 L293.3,245.6 L295.8,245.6 L297.7,245.6 L300.4,245.5 L303.2,245.5 L305.7,245.5 L309.8,245.6 L311.4,245.6 L314.7,244.8 L316.4,244.4 L318.5,244.4 L321,244 L324,244.3 L325.4,244.7 L327.9,244.8 L330,244 L332.4,243.9 L335,244.1 L336.1,244.9 L337.8,245.6 L339.4,245.6 L341,245.6 L342.5,245.4 L343.6,245.2 L345.3,245.2 L347.4,245 L348.4,244.9 L350.8,244.7 L352.2,244.4 L353.1,244.3 L355,244 L356.9,244 L357.4,244.3 L358.4,244.4 L359.4,244.8 L360.6,244.2 L363.9,238.5 L368.8,236 L371,239.4 L373,242.2 L375.4,245 L378.7,245.2 L380.4,245.2 L383.7,245.4 L389.4,245.4 L393.5,245.5 L396.8,245.6 L400.1,245.7 L404.3,245.7 L408.4,245.7 L410,245.7 L415,245.7 L424,245.7 L427,245.7 L430,245.5 L432.6,245.3 L434.6,245.4 L436,245.5 L437.6,245.5 L440,245.2 L442,245.1 L444,245.3 L446.6,245.5 L448.6,245.4 L451.4,245.5 L454.6,245.5 L457,245.5 L460.6,245.6 L464,245.5 L466,245.4 L469,245 L472,244.7 L474,244.9 L475.5,245 L478,245 L480,243.6 L483,222.2 L485,223.4 L487,227.3 L489,233 L491,230.8 L493,224.9 L495,223.4 L496.5,223.7 L499.1,218.9 L500.9,228.4 L501.7,239.3 L504.2,244.4 L506,243.1 L507.6,243.1 L509.4,243.8 L510.4,244.7 L511.8,245.3 L512.7,245.5 L514.7,245.6 L516.5,245.6 L519.4,245.5 L521.2,245.6 L522.9,245.6 L527.6,245.6 L529.4,245.6 L530.7,245.6 L532.5,245.6 L535.3,245.6 L537.9,245.6 L539.9,245.6 L542.6,245.6 L544.8,245.6 L547.2,245.6 L549.8,245.6 L552.1,245.6 L554.4,245.6 L556.7,245.6 L560.1,245.6 L563.6,245.5 L565.9,245.5 L567.7,245.4 L568.9,245.1 L570,244.6 L571.3,244.3 L572.5,243.6 L572.9,242.6 L573.9,242.3 L575.5,242.3 L576.8,242.5 L577.7,243.6 L578.5,244.3 L579.1,244.8 L580.9,245.5 L581.2,245.6 L582.5,245.6 L584.9,245.6 L587.9,245.5 L590.2,245.6 L594,245.6 L596.5,245.6 L599.8,245.6 L603.1,245.6 L606,245.5 L608.3,245.5 L610.5,245.6 L613,245.5 L614.9,245.6 L617.9,245.6 L620.4,245.6 L623.2,245.5 L624.5,245.4 L627,245.5 L629.1,245.5 L631.9,245.4 L633.6,245.3 L636.6,245.3 L639,245.3 L641.2,245.4 L643.2,245.4 L645.2,245.4 L647.3,245.3 L649.4,245.3 L651.4,245.3 L654.4,245.2 L656.4,245 L659.7,244.8 L662.9,244.5 L666.2,244.3 L666.2,245.7 Z" fill="#e45549"/>
<path d="M101.3,245.7 L101.3,243.9 L103.8,244 L105.9,244.8 L107.9,244.3 L110.4,243.7 L111.5,243.8 L113.2,244.3 L115.8,243.8 L117.8,243.1 L119.7,244.6 L121,244.8 L122.7,244.7 L124.4,244.7 L126.8,245.1 L128.5,245.3 L130.6,245 L132.6,244.1 L133.8,243.4 L135,244.2 L136.2,245.1 L140,245.4 L145,245.5 L146.6,245.2 L148.2,245 L150.4,245 L151.5,244.9 L152.5,244.6 L153,244.3 L155,243.9 L156.8,243.9 L158.1,244.1 L158.7,244.4 L159.5,244.9 L160.5,245.1 L163.4,244.8 L166.5,245.3 L167.9,245.3 L172.8,245.1 L179.9,245.4 L184.1,245.4 L185.9,245.4 L188.7,245.3 L190.7,245.4 L193,245.3 L195.4,245.2 L197.5,245.3 L199.6,245.3 L202,245.4 L206,245.4 L208.8,245.4 L211.3,245.3 L214.4,245.4 L218.6,245.4 L219,245.5 L219.7,245.7 L221,245.7 L223.1,245.7 L225.2,245.7 L229.5,245.7 L233.3,245.7 L238,245.7 L243.2,245.7 L249.1,245.7 L253,245.7 L259.4,245.7 L263.6,245.7 L265.8,245.7 L266.6,245.6 L268.2,245.6 L269.2,245.4 L269.7,245.2 L270.5,245.2 L271,245.1 L272.9,245.2 L273.9,245.2 L274.4,245.2 L275.4,245.3 L276.7,245.4 L278.6,245.5 L280.1,245.5 L282.6,245.6 L284.2,245.6 L286.7,245.6 L288.9,245.6 L291.2,245.6 L293.3,245.6 L295.8,245.6 L297.7,245.6 L300.4,245.5 L303.2,245.6 L305.7,245.6 L309.8,245.6 L311.4,245.6 L314.7,245 L316.4,244.6 L318.5,244.7 L321,244.3 L324,244.5 L325.4,244.9 L327.9,245 L330,244.3 L332.4,244.3 L335,244.5 L336.1,245 L337.8,245.6 L339.4,245.6 L341,245.6 L342.5,245.5 L343.6,245.3 L345.3,245.3 L347.4,245.1 L348.4,245 L350.8,244.9 L352.2,244.7 L353.1,244.6 L355,244.3 L356.9,244.4 L357.4,244.6 L358.4,244.7 L359.4,245 L360.6,245.1 L363.9,241.8 L368.8,240.3 L371,242.2 L373,245 L375.4,245.2 L378.7,245.3 L380.4,245.3 L383.7,245.5 L389.4,245.5 L393.5,245.6 L396.8,245.6 L400.1,245.7 L404.3,245.7 L408.4,245.7 L410,245.7 L415,245.7 L424,245.7 L427,245.7 L430,245.6 L432.6,245.4 L434.6,245.4 L436,245.5 L437.6,245.5 L440,245.3 L442,245.2 L444,245.4 L446.6,245.5 L448.6,245.5 L451.4,245.6 L454.6,245.5 L457,245.6 L460.6,245.6 L464,245.6 L466,245.4 L469,245.1 L472,244.9 L474,245.1 L475.5,245.2 L478,245.1 L480,244 L483,235.3 L485,235.9 L487,237.6 L489,240.1 L491,239.1 L493,236.5 L495,235.9 L496.5,236 L499.1,233.8 L500.9,240.4 L501.7,244.2 L504.2,244.7 L506,243.7 L507.6,243.6 L509.4,244.1 L510.4,244.9 L511.8,245.3 L512.7,245.6 L514.7,245.6 L516.5,245.6 L519.4,245.6 L521.2,245.6 L522.9,245.6 L527.6,245.7 L529.4,245.6 L530.7,245.6 L532.5,245.6 L535.3,245.6 L537.9,245.6 L539.9,245.6 L542.6,245.6 L544.8,245.6 L547.2,245.6 L549.8,245.6 L552.1,245.7 L554.4,245.7 L556.7,245.7 L560.1,245.6 L563.6,245.6 L565.9,245.6 L567.7,245.4 L568.9,245.2 L570,244.8 L571.3,244.6 L572.5,244 L572.9,243.2 L573.9,243 L575.5,243 L576.8,243.1 L577.7,244 L578.5,244.6 L579.1,245 L580.9,245.5 L581.2,245.6 L582.5,245.6 L584.9,245.6 L587.9,245.6 L590.2,245.6 L594,245.6 L596.5,245.6 L599.8,245.6 L603.1,245.6 L606,245.5 L608.3,245.6 L610.5,245.6 L613,245.6 L614.9,245.6 L617.9,245.6 L620.4,245.6 L623.2,245.5 L624.5,245.5 L627,245.5 L629.1,245.5 L631.9,245.4 L633.6,245.4 L636.6,245.4 L639,245.4 L641.2,245.4 L643.2,245.5 L645.2,245.5 L647.3,245.4 L649.4,245.4 L651.4,245.4 L654.4,245.3 L656.4,245.2 L659.7,245 L662.9,244.7 L666.2,244.6 L666.2,245.7 Z" fill="#d9444d"/>
<path d="M101.3,245.7 L101.3,244.3 L103.8,244.4 L105.9,245.1 L107.9,244.7 L110.4,244.2 L111.5,244.3 L113.2,244.7 L115.8,244.3 L117.8,243.7 L119.7,244.9 L121,245 L122.7,245 L124.4,245 L126.8,245.2 L128.5,245.4 L130.6,245.2 L132.6,244.5 L133.8,244 L135,244.6 L136.2,245.3 L140,245.4 L145,245.6 L146.6,245.3 L148.2,245.2 L150.4,245.2 L151.5,245.1 L152.5,244.9 L153,244.7 L155,244.4 L156.8,244.3 L158.1,244.5 L158.7,244.7 L159.5,245.1 L160.5,245.2 L163.4,245 L166.5,245.4 L167.9,245.4 L172.8,245.2 L179.9,245.5 L184.1,245.4 L185.9,245.5 L188.7,245.4 L190.7,245.4 L193,245.4 L195.4,245.3 L197.5,245.4 L199.6,245.4 L202,245.5 L206,245.4 L208.8,245.5 L211.3,245.4 L214.4,245.5 L218.6,245.5 L219,245.5 L219.7,245.7 L221,245.7 L223.1,245.7 L225.2,245.7 L229.5,245.7 L233.3,245.7 L238,245.7 L243.2,245.7 L249.1,245.7 L253,245.7 L259.4,245.7 L263.6,245.7 L265.8,245.7 L266.6,245.7 L268.2,245.6 L269.2,245.5 L269.7,245.3 L270.5,245.3 L271,245.3 L272.9,245.3 L273.9,245.3 L274.4,245.4 L275.4,245.4 L276.7,245.5 L278.6,245.5 L280.1,245.6 L282.6,245.6 L284.2,245.7 L286.7,245.6 L288.9,245.6 L291.2,245.6 L293.3,245.6 L295.8,245.6 L297.7,245.6 L300.4,245.6 L303.2,245.6 L305.7,245.6 L309.8,245.6 L311.4,245.6 L314.7,245.2 L316.4,244.9 L318.5,244.9 L321,244.7 L324,244.8 L325.4,245.1 L327.9,245.1 L330,244.7 L332.4,244.6 L335,244.8 L336.1,245.2 L337.8,245.6 L339.4,245.6 L341,245.6 L342.5,245.5 L343.6,245.4 L345.3,245.4 L347.4,245.3 L348.4,245.2 L350.8,245.1 L352.2,244.9 L353.1,244.8 L355,244.7 L356.9,244.7 L357.4,244.9 L358.4,244.9 L359.4,245.2 L360.6,245.3 L363.9,244.9 L368.8,244.6 L371,245 L373,245.2 L375.4,245.3 L378.7,245.4 L380.4,245.4 L383.7,245.5 L389.4,245.5 L393.5,245.6 L396.8,245.6 L400.1,245.7 L404.3,245.7 L408.4,245.7 L410,245.7 L415,245.7 L424,245.7 L427,245.7 L430,245.6 L432.6,245.4 L434.6,245.5 L436,245.6 L437.6,245.6 L440,245.4 L442,245.3 L444,245.4 L446.6,245.6 L448.6,245.5 L451.4,245.6 L454.6,245.6 L457,245.6 L460.6,245.6 L464,245.6 L466,245.5 L469,245.3 L472,245.1 L474,245.2 L475.5,245.3 L478,245.3 L480,244.4 L483,242.4 L485,242.6 L487,243.1 L489,243.9 L491,243.6 L493,242.8 L495,242.6 L496.5,242.6 L499.1,242 L500.9,243 L501.7,244.6 L504.2,244.9 L506,244.2 L507.6,244.1 L509.4,244.5 L510.4,245.1 L511.8,245.4 L512.7,245.6 L514.7,245.6 L516.5,245.6 L519.4,245.6 L521.2,245.6 L522.9,245.7 L527.6,245.7 L529.4,245.7 L530.7,245.6 L532.5,245.7 L535.3,245.6 L537.9,245.6 L539.9,245.6 L542.6,245.6 L544.8,245.6 L547.2,245.6 L549.8,245.7 L552.1,245.7 L554.4,245.7 L556.7,245.7 L560.1,245.7 L563.6,245.6 L565.9,245.6 L567.7,245.5 L568.9,245.3 L570,245 L571.3,244.8 L572.5,244.4 L572.9,243.8 L573.9,243.6 L575.5,243.7 L576.8,243.8 L577.7,244.4 L578.5,244.8 L579.1,245.2 L580.9,245.6 L581.2,245.6 L582.5,245.6 L584.9,245.6 L587.9,245.6 L590.2,245.6 L594,245.6 L596.5,245.6 L599.8,245.6 L603.1,245.6 L606,245.6 L608.3,245.6 L610.5,245.6 L613,245.6 L614.9,245.7 L617.9,245.6 L620.4,245.6 L623.2,245.6 L624.5,245.5 L627,245.6 L629.1,245.6 L631.9,245.5 L633.6,245.4 L636.6,245.5 L639,245.5 L641.2,245.5 L643.2,245.5 L645.2,245.5 L647.3,245.5 L649.4,245.5 L651.4,245.5 L654.4,245.4 L656.4,245.3 L659.7,245.1 L662.9,245 L666.2,244.9 L666.2,245.7 Z" fill="#cb334d"/>
<path d="M101.3,245.7 L101.3,244.8 L103.8,244.9 L105.9,245.3 L107.9,245 L110.4,244.7 L111.5,244.8 L113.2,245 L115.8,244.8 L117.8,244.4 L119.7,245.1 L121,245.3 L122.7,245.2 L124.4,245.2 L126.8,245.4 L128.5,245.5 L130.6,245.4 L132.6,244.9 L133.8,244.6 L135,245 L136.2,245.4 L140,245.5 L145,245.6 L146.6,245.4 L148.2,245.3 L150.4,245.3 L151.5,245.3 L152.5,245.2 L153,245 L155,244.8 L156.8,244.8 L158.1,244.9 L158.7,245.1 L159.5,245.3 L160.5,245.4 L163.4,245.3 L166.5,245.5 L167.9,245.5 L172.8,245.4 L179.9,245.5 L184.1,245.5 L185.9,245.5 L188.7,245.5 L190.7,245.5 L193,245.5 L195.4,245.5 L197.5,245.5 L199.6,245.5 L202,245.5 L206,245.5 L208.8,245.5 L211.3,245.5 L214.4,245.5 L218.6,245.6 L219,245.6 L219.7,245.7 L221,245.7 L223.1,245.7 L225.2,245.7 L229.5,245.7 L233.3,245.7 L238,245.7 L243.2,245.7 L249.1,245.7 L253,245.7 L259.4,245.7 L263.6,245.7 L265.8,245.7 L266.6,245.7 L268.2,245.6 L269.2,245.6 L269.7,245.5 L270.5,245.4 L271,245.4 L272.9,245.4 L273.9,245.4 L274.4,245.5 L275.4,245.5 L276.7,245.6 L278.6,245.6 L280.1,245.6 L282.6,245.6 L284.2,245.7 L286.7,245.6 L288.9,245.6 L291.2,245.7 L293.3,245.7 L295.8,245.7 L297.7,245.7 L300.4,245.6 L303.2,245.6 L305.7,245.6 L309.8,245.7 L311.4,245.7 L314.7,245.3 L316.4,245.2 L318.5,245.2 L321,245 L324,245.1 L325.4,245.3 L327.9,245.3 L330,245 L332.4,245 L335,245.1 L336.1,245.4 L337.8,245.6 L339.4,245.7 L341,245.7 L342.5,245.6 L343.6,245.5 L345.3,245.5 L347.4,245.4 L348.4,245.4 L350.8,245.3 L352.2,245.2 L353.1,245.1 L355,245 L356.9,245 L357.4,245.1 L358.4,245.2 L359.4,245.3 L360.6,245.4 L363.9,245.2 L368.8,245 L371,245.2 L373,245.4 L375.4,245.4 L378.7,245.5 L380.4,245.5 L383.7,245.6 L389.4,245.6 L393.5,245.6 L396.8,245.7 L400.1,245.7 L404.3,245.7 L408.4,245.7 L410,245.7 L415,245.7 L424,245.7 L427,245.7 L430,245.6 L432.6,245.5 L434.6,245.6 L436,245.6 L437.6,245.6 L440,245.5 L442,245.4 L444,245.5 L446.6,245.6 L448.6,245.6 L451.4,245.6 L454.6,245.6 L457,245.6 L460.6,245.6 L464,245.6 L466,245.6 L469,245.4 L472,245.3 L474,245.4 L475.5,245.4 L478,245.4 L480,244.9 L483,243.5 L485,243.6 L487,244 L489,244.5 L491,244.3 L493,243.8 L495,243.6 L496.5,243.6 L499.1,243.2 L500.9,243.9 L501.7,245 L504.2,245.2 L506,244.7 L507.6,244.7 L509.4,244.9 L510.4,245.3 L511.8,245.5 L512.7,245.6 L514.7,245.6 L516.5,245.6 L519.4,245.6 L521.2,245.7 L522.9,245.7 L527.6,245.7 L529.4,245.7 L530.7,245.7 L532.5,245.7 L535.3,245.7 L537.9,245.6 L539.9,245.7 L542.6,245.7 L544.8,245.7 L547.2,245.6 L549.8,245.7 L552.1,245.7 L554.4,245.7 L556.7,245.7 L560.1,245.7 L563.6,245.6 L565.9,245.6 L567.7,245.6 L568.9,245.5 L570,245.3 L571.3,245.1 L572.5,244.9 L572.9,244.5 L573.9,244.3 L575.5,244.3 L576.8,244.4 L577.7,244.9 L578.5,245.1 L579.1,245.3 L580.9,245.6 L581.2,245.7 L582.5,245.7 L584.9,245.6 L587.9,245.6 L590.2,245.7 L594,245.6 L596.5,245.7 L599.8,245.7 L603.1,245.6 L606,245.6 L608.3,245.6 L610.5,245.7 L613,245.6 L614.9,245.7 L617.9,245.7 L620.4,245.7 L623.2,245.6 L624.5,245.6 L627,245.6 L629.1,245.6 L631.9,245.6 L633.6,245.5 L636.6,245.5 L639,245.6 L641.2,245.6 L643.2,245.6 L645.2,245.6 L647.3,245.5 L649.4,245.6 L651.4,245.6 L654.4,245.5 L656.4,245.4 L659.7,245.3 L662.9,245.2 L666.2,245.2 L666.2,245.7 Z" fill="#b81e48"/>
<path d="M101.3,245.7 L101.3,245.2 L103.8,245.3 L105.9,245.5 L107.9,245.4 L110.4,245.2 L111.5,245.2 L113.2,245.4 L115.8,245.2 L117.8,245 L119.7,245.4 L121,245.5 L122.7,245.5 L124.4,245.5 L126.8,245.5 L128.5,245.6 L130.6,245.5 L132.6,245.3 L133.8,245.1 L135,245.3 L136.2,245.6 L140,245.6 L145,245.7 L146.6,245.6 L148.2,245.5 L150.4,245.5 L151.5,245.5 L152.5,245.4 L153,245.4 L155,245.3 L156.8,245.2 L158.1,245.3 L158.7,245.4 L159.5,245.5 L160.5,245.5 L163.4,245.5 L166.5,245.6 L167.9,245.6 L172.8,245.5 L179.9,245.6 L184.1,245.6 L185.9,245.6 L188.7,245.6 L190.7,245.6 L193,245.6 L195.4,245.6 L197.5,245.6 L199.6,245.6 L202,245.6 L206,245.6 L208.8,245.6 L211.3,245.6 L214.4,245.6 L218.6,245.6 L219,245.6 L219.7,245.7 L221,245.7 L223.1,245.7 L225.2,245.7 L229.5,245.7 L233.3,245.7 L238,245.7 L243.2,245.7 L249.1,245.7 L253,245.7 L259.4,245.7 L263.6,245.7 L265.8,245.7 L266.6,245.7 L268.2,245.7 L269.2,245.6 L269.7,245.6 L270.5,245.6 L271,245.6 L272.9,245.6 L273.9,245.6 L274.4,245.6 L275.4,245.6 L276.7,245.6 L278.6,245.6 L280.1,245.7 L282.6,245.7 L284.2,245.7 L286.7,245.7 L288.9,245.7 L291.2,245.7 L293.3,245.7 L295.8,245.7 L297.7,245.7 L300.4,245.7 L303.2,245.7 L305.7,245.7 L309.8,245.7 L311.4,245.7 L314.7,245.5 L316.4,245.4 L318.5,245.4 L321,245.4 L324,245.4 L325.4,245.5 L327.9,245.5 L330,245.4 L332.4,245.3 L335,245.4 L336.1,245.5 L337.8,245.7 L339.4,245.7 L341,245.7 L342.5,245.6 L343.6,245.6 L345.3,245.6 L347.4,245.6 L348.4,245.5 L350.8,245.5 L352.2,245.4 L353.1,245.4 L355,245.4 L356.9,245.4 L357.4,245.4 L358.4,245.4 L359.4,245.5 L360.6,245.6 L363.9,245.4 L368.8,245.3 L371,245.5 L373,245.5 L375.4,245.6 L378.7,245.6 L380.4,245.6 L383.7,245.6 L389.4,245.6 L393.5,245.7 L396.8,245.7 L400.1,245.7 L404.3,245.7 L408.4,245.7 L410,245.7 L415,245.7 L424,245.7 L427,245.7 L430,245.7 L432.6,245.6 L434.6,245.6 L436,245.7 L437.6,245.7 L440,245.6 L442,245.6 L444,245.6 L446.6,245.7 L448.6,245.6 L451.4,245.7 L454.6,245.7 L457,245.7 L460.6,245.7 L464,245.7 L466,245.6 L469,245.6 L472,245.5 L474,245.5 L475.5,245.6 L478,245.6 L480,245.3 L483,244.6 L485,244.7 L487,244.8 L489,245.1 L491,245 L493,244.7 L495,244.7 L496.5,244.7 L499.1,244.5 L500.9,244.8 L501.7,245.3 L504.2,245.4 L506,245.2 L507.6,245.2 L509.4,245.3 L510.4,245.5 L511.8,245.6 L512.7,245.7 L514.7,245.7 L516.5,245.7 L519.4,245.7 L521.2,245.7 L522.9,245.7 L527.6,245.7 L529.4,245.7 L530.7,245.7 L532.5,245.7 L535.3,245.7 L537.9,245.7 L539.9,245.7 L542.6,245.7 L544.8,245.7 L547.2,245.7 L549.8,245.7 L552.1,245.7 L554.4,245.7 L556.7,245.7 L560.1,245.7 L563.6,245.7 L565.9,245.7 L567.7,245.6 L568.9,245.6 L570,245.5 L571.3,245.4 L572.5,245.3 L572.9,245.1 L573.9,245 L575.5,245 L576.8,245.1 L577.7,245.3 L578.5,245.4 L579.1,245.5 L580.9,245.7 L581.2,245.7 L582.5,245.7 L584.9,245.7 L587.9,245.7 L590.2,245.7 L594,245.7 L596.5,245.7 L599.8,245.7 L603.1,245.7 L606,245.7 L608.3,245.7 L610.5,245.7 L613,245.7 L614.9,245.7 L617.9,245.7 L620.4,245.7 L623.2,245.7 L624.5,245.6 L627,245.7 L629.1,245.7 L631.9,245.6 L633.6,245.6 L636.6,245.6 L639,245.6 L641.2,245.6 L643.2,245.6 L645.2,245.6 L647.3,245.6 L649.4,245.6 L651.4,245.6 L654.4,245.6 L656.4,245.6 L659.7,245.5 L662.9,245.5 L666.2,245.4 L666.2,245.7 Z" fill="#a70b44"/></g>
<path d="M101.4,245.2 L666.5,245.2" stroke="#ec6046" stroke-width="1" opacity="0.55"/>
<path d="M101.3,194.7 L103.8,198.8 L105.9,221.8 L107.9,207 L110.4,190.5 L111.5,193.8 L113.2,207 L115.8,193.8 L117.8,170.8 L119.7,210.3 L121,209.5 L122.7,204.5 L124.4,205.4 L126.8,219.4 L128.5,228.4 L130.6,218.5 L132.6,178 L133.8,142 L135,175 L136.2,217.7 L140,226 L145,231.7 L146.6,206.2 L148.2,191.4 L150.4,190.5 L151.5,179 L152.5,160 L153,135 L155,103 L156.8,95.8 L158.1,114 L158.7,140 L159.5,178 L160.5,191 L163.4,168.3 L166.5,205.7 L167.9,203.6 L172.8,174 L179.9,199.4 L184.1,187.4 L185.9,189.5 L188.7,180.3 L190.7,184.6 L193,178 L195.4,159.2 L197.5,167 L199.6,175.4 L202,187.4 L206,186 L208.8,187.4 L211.3,181.7 L214.4,186.7 L218.6,198 L219,210 L219.7,237.8 L221,238.2 L223.1,240 L225.2,238.7 L229.5,233.1 L233.3,236.5 L238,235.7 L243.2,240 L249.1,238.2 L253,240 L259.4,240 L263.6,234.4 L265.8,237.8 L266.6,229 L268.2,200 L269.2,150 L269.7,80 L270.5,55 L271,52.9 L272.9,62 L273.9,73 L274.4,88 L275.4,117 L276.7,148 L278.6,167 L280.1,189.7 L282.6,207.8 L284.2,225.1 L286.7,198.8 L288.9,209.5 L291.2,222.7 L293.3,216.9 L295.8,212.8 L297.7,218.5 L300.4,185.6 L303.2,198 L305.7,201.2 L309.8,219.4 L311.4,216.9 L314.7,187.2 L316.4,173.2 L318.5,174 L321,149.6 L324,166 L325.4,193 L327.9,194.7 L330,152 L332.4,147 L335,160 L336.1,198 L337.8,228.4 L339.4,226 L341,228.8 L342.5,205 L343.6,180.2 L345.3,187.7 L347.4,177 L348.4,169.8 L350.8,156.6 L352.2,139.6 L353.1,128.3 L355,110.4 L356.9,118.9 L357.4,147 L358.4,166 L359.4,196.7 L360.6,212.4 L363.9,205.8 L368.8,192.6 L371,211.5 L373,211.5 L375.4,202.5 L378.7,200 L380.4,202.5 L383.7,213.2 L389.4,209.9 L393.5,215.7 L396.8,223.1 L400.1,235.4 L404.3,237.9 L408.4,239.2 L410,240 L415,241 L424,240 L427,234 L430,220 L432.6,194 L434.6,208 L436,219 L437.6,219 L440,184 L442,170 L444,194 L446.6,223 L448.6,210 L451.4,225 L454.6,222 L457,224 L460.6,230 L464,224 L466,206 L469,174 L472,165 L474,185 L475.5,200 L478,204 L480,185 L483,150 L485,155 L487,171 L489,194 L491,185 L493,161 L495,155 L496.5,156 L499.1,136.5 L500.9,155.9 L501.7,202.5 L504.2,202.5 L506,150.7 L507.6,141.7 L509.4,161 L510.4,201.8 L511.8,215.9 L512.7,226.5 L514.7,211.8 L516.5,214.7 L519.4,202.9 L521.2,217 L522.9,230.6 L527.6,234.1 L529.4,227.6 L530.7,225.9 L532.5,227.4 L535.3,220.5 L537.9,214.9 L539.9,221.3 L542.6,225.1 L544.8,223.6 L547.2,215.9 L549.8,229.7 L552.1,232.8 L554.4,232 L556.7,233.5 L560.1,228.9 L563.6,210.6 L565.9,207.5 L567.7,206 L568.9,195.3 L570,180 L571.3,160 L572.5,120 L572.9,60 L573.9,40 L575.5,43 L576.8,52 L577.7,120 L578.5,160 L579.1,190 L580.9,216.7 L581.2,232 L582.5,222.7 L584.9,211.1 L587.9,207 L590.2,217.7 L594,215.7 L596.5,219.4 L599.8,222.7 L603.1,210.3 L606,193 L608.3,202.1 L610.5,216.9 L613,202.9 L614.9,226 L617.9,221.8 L620.4,219.4 L623.2,198.8 L624.5,195.5 L627,212 L629.1,209.5 L631.9,189.7 L633.6,173.2 L636.6,181.5 L639,185.6 L641.2,187.2 L643.2,193 L645.2,198 L647.3,172.4 L649.4,186.4 L651.4,193.8 L654.4,204.5 L656.4,203.7 L659.7,207 L662.9,211.1 L666.2,218.5" fill="none" stroke="#4557a6" stroke-width="2.1" stroke-linejoin="round"/>
<rect x="73.5" y="30.5" width="620" height="225" fill="none" stroke="#000" stroke-width="1.1"/>
<line x1="68.6" y1="244.45" x2="73.5" y2="244.45" stroke="#000" stroke-width="1.1"/><text x="63" y="250.80" text-anchor="end" font-size="14.4" textLength="20.5" lengthAdjust="spacingAndGlyphs">0.0</text><line x1="68.6" y1="200.45" x2="73.5" y2="200.45" stroke="#000" stroke-width="1.1"/><text x="63" y="205.60" text-anchor="end" font-size="14.4" textLength="20.5" lengthAdjust="spacingAndGlyphs">0.1</text><line x1="68.6" y1="155.40" x2="73.5" y2="155.40" stroke="#000" stroke-width="1.1"/><text x="63" y="160.60" text-anchor="end" font-size="14.4" textLength="20.5" lengthAdjust="spacingAndGlyphs">0.2</text><line x1="68.6" y1="111.45" x2="73.5" y2="111.45" stroke="#000" stroke-width="1.1"/><text x="63" y="116.60" text-anchor="end" font-size="14.4" textLength="20.5" lengthAdjust="spacingAndGlyphs">0.3</text><line x1="68.6" y1="66.40" x2="73.5" y2="66.40" stroke="#000" stroke-width="1.1"/><text x="63" y="71.70" text-anchor="end" font-size="14.4" textLength="20.5" lengthAdjust="spacingAndGlyphs">0.4</text>
<line x1="101.30" y1="255.5" x2="101.30" y2="260.4" stroke="#000" stroke-width="1.1"/><text transform="translate(101.30,278.98) rotate(-30)" x="-1" y="-3.2" text-anchor="end" font-size="15.8" textLength="86" lengthAdjust="spacingAndGlyphs">01-Mar-2025</text><line x1="156.11" y1="255.5" x2="156.11" y2="260.4" stroke="#000" stroke-width="1.1"/><text transform="translate(156.11,278.98) rotate(-30)" x="-1" y="-3.2" text-anchor="end" font-size="15.8" textLength="86" lengthAdjust="spacingAndGlyphs">04-Mar-2025</text><line x1="210.92" y1="255.5" x2="210.92" y2="260.4" stroke="#000" stroke-width="1.1"/><text transform="translate(210.92,278.98) rotate(-30)" x="-1" y="-3.2" text-anchor="end" font-size="15.8" textLength="86" lengthAdjust="spacingAndGlyphs">07-Mar-2025</text><line x1="265.73" y1="255.5" x2="265.73" y2="260.4" stroke="#000" stroke-width="1.1"/><text transform="translate(265.73,278.98) rotate(-30)" x="-1" y="-3.2" text-anchor="end" font-size="15.8" textLength="86" lengthAdjust="spacingAndGlyphs">10-Mar-2025</text><line x1="320.54" y1="255.5" x2="320.54" y2="260.4" stroke="#000" stroke-width="1.1"/><text transform="translate(320.54,278.98) rotate(-30)" x="-1" y="-3.2" text-anchor="end" font-size="15.8" textLength="86" lengthAdjust="spacingAndGlyphs">13-Mar-2025</text><line x1="375.35" y1="255.5" x2="375.35" y2="260.4" stroke="#000" stroke-width="1.1"/><text transform="translate(375.35,278.98) rotate(-30)" x="-1" y="-3.2" text-anchor="end" font-size="15.8" textLength="86" lengthAdjust="spacingAndGlyphs">16-Mar-2025</text><line x1="430.16" y1="255.5" x2="430.16" y2="260.4" stroke="#000" stroke-width="1.1"/><text transform="translate(430.16,278.98) rotate(-30)" x="-1" y="-3.2" text-anchor="end" font-size="15.8" textLength="86" lengthAdjust="spacingAndGlyphs">19-Mar-2025</text><line x1="484.97" y1="255.5" x2="484.97" y2="260.4" stroke="#000" stroke-width="1.1"/><text transform="translate(484.97,278.98) rotate(-30)" x="-1" y="-3.2" text-anchor="end" font-size="15.8" textLength="86" lengthAdjust="spacingAndGlyphs">22-Mar-2025</text><line x1="539.78" y1="255.5" x2="539.78" y2="260.4" stroke="#000" stroke-width="1.1"/><text transform="translate(539.78,278.98) rotate(-30)" x="-1" y="-3.2" text-anchor="end" font-size="15.8" textLength="86" lengthAdjust="spacingAndGlyphs">25-Mar-2025</text><line x1="594.59" y1="255.5" x2="594.59" y2="260.4" stroke="#000" stroke-width="1.1"/><text transform="translate(594.59,278.98) rotate(-30)" x="-1" y="-3.2" text-anchor="end" font-size="15.8" textLength="86" lengthAdjust="spacingAndGlyphs">28-Mar-2025</text><line x1="649.40" y1="255.5" x2="649.40" y2="260.4" stroke="#000" stroke-width="1.1"/><text transform="translate(649.40,278.98) rotate(-30)" x="-1" y="-3.2" text-anchor="end" font-size="15.8" textLength="86" lengthAdjust="spacingAndGlyphs">31-Mar-2025</text>
<rect x="73.50" y="344.5" width="21.67" height="46.5" fill="#a70b44"/><rect x="94.17" y="344.5" width="21.67" height="46.5" fill="#b81e48"/><rect x="114.83" y="344.5" width="21.67" height="46.5" fill="#cb334d"/><rect x="135.50" y="344.5" width="21.67" height="46.5" fill="#d9444d"/><rect x="156.17" y="344.5" width="21.67" height="46.5" fill="#e45549"/><rect x="176.83" y="344.5" width="21.67" height="46.5" fill="#ee6445"/><rect x="197.50" y="344.5" width="21.67" height="46.5" fill="#f57748"/><rect x="218.17" y="344.5" width="21.67" height="46.5" fill="#f98e52"/><rect x="238.83" y="344.5" width="21.67" height="46.5" fill="#fba35c"/><rect x="259.50" y="344.5" width="21.67" height="46.5" fill="#fdb768"/><rect x="280.17" y="344.5" width="21.67" height="46.5" fill="#fdc776"/><rect x="300.83" y="344.5" width="21.67" height="46.5" fill="#fed884"/><rect x="321.50" y="344.5" width="21.67" height="46.5" fill="#fee593"/><rect x="342.17" y="344.5" width="21.67" height="46.5" fill="#fff0a6"/><rect x="362.83" y="344.5" width="21.67" height="46.5" fill="#fffab6"/><rect x="383.50" y="344.5" width="21.67" height="46.5" fill="#fbfdb8"/><rect x="404.17" y="344.5" width="21.67" height="46.5" fill="#f3faac"/><rect x="424.83" y="344.5" width="21.67" height="46.5" fill="#eaf79e"/><rect x="445.50" y="344.5" width="21.67" height="46.5" fill="#ddf19a"/><rect x="466.17" y="344.5" width="21.67" height="46.5" fill="#c8e99e"/><rect x="486.83" y="344.5" width="21.67" height="46.5" fill="#b5e1a2"/><rect x="507.50" y="344.5" width="21.67" height="46.5" fill="#9fd8a4"/><rect x="528.17" y="344.5" width="21.67" height="46.5" fill="#86cfa5"/><rect x="548.83" y="344.5" width="21.67" height="46.5" fill="#71c6a5"/><rect x="569.50" y="344.5" width="21.67" height="46.5" fill="#5cb7aa"/><rect x="590.17" y="344.5" width="21.67" height="46.5" fill="#4ba4b1"/><rect x="610.83" y="344.5" width="21.67" height="46.5" fill="#3990ba"/><rect x="631.50" y="344.5" width="21.67" height="46.5" fill="#3a7eb8"/><rect x="652.17" y="344.5" width="21.67" height="46.5" fill="#496aaf"/><rect x="672.83" y="344.5" width="20.67" height="46.5" fill="#5758a6"/>
<rect x="73.5" y="344.5" width="620" height="46.5" fill="none" stroke="#000" stroke-width="1.1"/>
<line x1="73.50" y1="391" x2="73.50" y2="396.3" stroke="#000" stroke-width="1.1"/><text x="73.50" y="412.7" text-anchor="middle" font-size="14.4" textLength="9.3" lengthAdjust="spacingAndGlyphs">0</text><line x1="156.17" y1="391" x2="156.17" y2="396.3" stroke="#000" stroke-width="1.1"/><text x="156.17" y="412.7" text-anchor="middle" font-size="14.4" textLength="9.3" lengthAdjust="spacingAndGlyphs">4</text><line x1="238.83" y1="391" x2="238.83" y2="396.3" stroke="#000" stroke-width="1.1"/><text x="238.83" y="412.7" text-anchor="middle" font-size="14.4" textLength="9.3" lengthAdjust="spacingAndGlyphs">8</text><line x1="321.50" y1="391" x2="321.50" y2="396.3" stroke="#000" stroke-width="1.1"/><text x="321.50" y="412.7" text-anchor="middle" font-size="14.4" textLength="18.9" lengthAdjust="spacingAndGlyphs">12</text><line x1="404.17" y1="391" x2="404.17" y2="396.3" stroke="#000" stroke-width="1.1"/><text x="404.17" y="412.7" text-anchor="middle" font-size="14.4" textLength="18.9" lengthAdjust="spacingAndGlyphs">16</text><line x1="486.83" y1="391" x2="486.83" y2="396.3" stroke="#000" stroke-width="1.1"/><text x="486.83" y="412.7" text-anchor="middle" font-size="14.4" textLength="18.9" lengthAdjust="spacingAndGlyphs">20</text><line x1="569.50" y1="391" x2="569.50" y2="396.3" stroke="#000" stroke-width="1.1"/><text x="569.50" y="412.7" text-anchor="middle" font-size="14.4" textLength="18.9" lengthAdjust="spacingAndGlyphs">24</text><line x1="652.17" y1="391" x2="652.17" y2="396.3" stroke="#000" stroke-width="1.1"/><text x="652.17" y="412.7" text-anchor="middle" font-size="14.4" textLength="18.9" lengthAdjust="spacingAndGlyphs">28</text>
<text x="383" y="371.9" text-anchor="middle" font-size="14.4" textLength="34.8" lengthAdjust="spacingAndGlyphs">Days</text>
</svg>
</body></html>
